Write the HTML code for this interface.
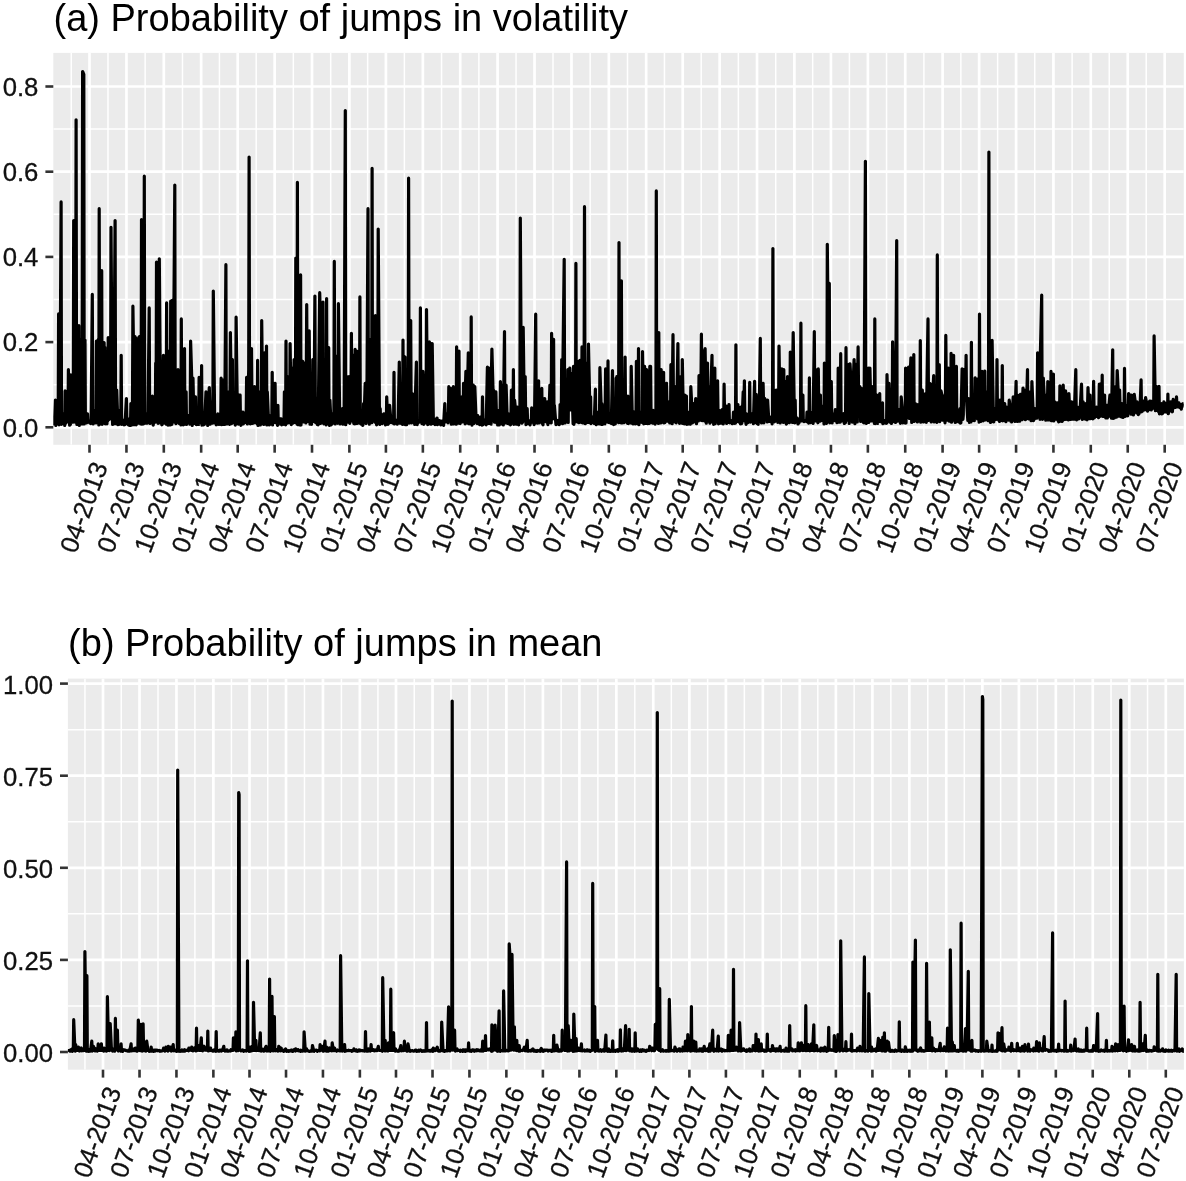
<!DOCTYPE html>
<html><head><meta charset="utf-8"><title>Probability of jumps</title>
<style>html,body{margin:0;padding:0;background:#fff}svg{display:block}</style></head>
<body><svg width="1186" height="1181" viewBox="0 0 1186 1181">
<rect width="1186" height="1181" fill="#fff"/>
<rect x="53.3" y="52.9" width="1130.5" height="391.90000000000003" fill="#ebebeb"/>
<clipPath id="ca"><rect x="53.3" y="52.9" width="1130.5" height="391.90000000000003"/></clipPath>
<g clip-path="url(#ca)" stroke="#fff" fill="none">
<path d="M53.3 427.30H1183.8" stroke-width="2.7"/>
<path d="M53.3 384.70H1183.8" stroke-width="1.5"/>
<path d="M53.3 342.10H1183.8" stroke-width="2.7"/>
<path d="M53.3 299.50H1183.8" stroke-width="1.5"/>
<path d="M53.3 256.90H1183.8" stroke-width="2.7"/>
<path d="M53.3 214.30H1183.8" stroke-width="1.5"/>
<path d="M53.3 171.70H1183.8" stroke-width="2.7"/>
<path d="M53.3 129.10H1183.8" stroke-width="1.5"/>
<path d="M53.3 86.50H1183.8" stroke-width="2.7"/>
<path d="M71.23 52.9V444.8" stroke-width="1.5"/>
<path d="M107.97 52.9V444.8" stroke-width="1.5"/>
<path d="M145.13 52.9V444.8" stroke-width="1.5"/>
<path d="M182.48 52.9V444.8" stroke-width="1.5"/>
<path d="M219.43 52.9V444.8" stroke-width="1.5"/>
<path d="M256.18 52.9V444.8" stroke-width="1.5"/>
<path d="M293.33 52.9V444.8" stroke-width="1.5"/>
<path d="M330.69 52.9V444.8" stroke-width="1.5"/>
<path d="M367.64 52.9V444.8" stroke-width="1.5"/>
<path d="M404.38 52.9V444.8" stroke-width="1.5"/>
<path d="M441.54 52.9V444.8" stroke-width="1.5"/>
<path d="M478.89 52.9V444.8" stroke-width="1.5"/>
<path d="M516.05 52.9V444.8" stroke-width="1.5"/>
<path d="M552.99 52.9V444.8" stroke-width="1.5"/>
<path d="M590.15 52.9V444.8" stroke-width="1.5"/>
<path d="M627.50 52.9V444.8" stroke-width="1.5"/>
<path d="M664.45 52.9V444.8" stroke-width="1.5"/>
<path d="M701.20 52.9V444.8" stroke-width="1.5"/>
<path d="M738.35 52.9V444.8" stroke-width="1.5"/>
<path d="M775.71 52.9V444.8" stroke-width="1.5"/>
<path d="M812.66 52.9V444.8" stroke-width="1.5"/>
<path d="M849.40 52.9V444.8" stroke-width="1.5"/>
<path d="M886.56 52.9V444.8" stroke-width="1.5"/>
<path d="M923.91 52.9V444.8" stroke-width="1.5"/>
<path d="M960.86 52.9V444.8" stroke-width="1.5"/>
<path d="M997.61 52.9V444.8" stroke-width="1.5"/>
<path d="M1034.76 52.9V444.8" stroke-width="1.5"/>
<path d="M1072.12 52.9V444.8" stroke-width="1.5"/>
<path d="M1109.27 52.9V444.8" stroke-width="1.5"/>
<path d="M1146.22 52.9V444.8" stroke-width="1.5"/>
<path d="M89.50 52.9V444.8" stroke-width="2.7"/>
<path d="M126.45 52.9V444.8" stroke-width="2.7"/>
<path d="M163.81 52.9V444.8" stroke-width="2.7"/>
<path d="M201.16 52.9V444.8" stroke-width="2.7"/>
<path d="M237.70 52.9V444.8" stroke-width="2.7"/>
<path d="M274.65 52.9V444.8" stroke-width="2.7"/>
<path d="M312.01 52.9V444.8" stroke-width="2.7"/>
<path d="M349.37 52.9V444.8" stroke-width="2.7"/>
<path d="M385.91 52.9V444.8" stroke-width="2.7"/>
<path d="M422.86 52.9V444.8" stroke-width="2.7"/>
<path d="M460.21 52.9V444.8" stroke-width="2.7"/>
<path d="M497.57 52.9V444.8" stroke-width="2.7"/>
<path d="M534.52 52.9V444.8" stroke-width="2.7"/>
<path d="M571.47 52.9V444.8" stroke-width="2.7"/>
<path d="M608.83 52.9V444.8" stroke-width="2.7"/>
<path d="M646.18 52.9V444.8" stroke-width="2.7"/>
<path d="M682.72 52.9V444.8" stroke-width="2.7"/>
<path d="M719.67 52.9V444.8" stroke-width="2.7"/>
<path d="M757.03 52.9V444.8" stroke-width="2.7"/>
<path d="M794.39 52.9V444.8" stroke-width="2.7"/>
<path d="M830.93 52.9V444.8" stroke-width="2.7"/>
<path d="M867.88 52.9V444.8" stroke-width="2.7"/>
<path d="M905.23 52.9V444.8" stroke-width="2.7"/>
<path d="M942.59 52.9V444.8" stroke-width="2.7"/>
<path d="M979.13 52.9V444.8" stroke-width="2.7"/>
<path d="M1016.08 52.9V444.8" stroke-width="2.7"/>
<path d="M1053.44 52.9V444.8" stroke-width="2.7"/>
<path d="M1090.79 52.9V444.8" stroke-width="2.7"/>
<path d="M1127.74 52.9V444.8" stroke-width="2.7"/>
<path d="M1164.69 52.9V444.8" stroke-width="2.7"/>
</g>
<path clip-path="url(#ca)" d="M54.2 425.6L55.4 400.2L55.8 425.5L56.2 413.9L56.6 413.8L57.0 416.4L58.2 422.1L58.6 313.9L59.0 424.8L59.5 315.6L59.9 424.0L61.1 201.9L61.5 424.3L61.9 415.4L62.3 423.7L62.7 415.8L63.9 413.8L64.3 415.2L64.7 425.5L65.1 390.9L65.5 423.3L66.8 397.8L67.2 419.5L67.6 391.1L68.0 422.0L68.4 369.7L69.6 425.2L70.0 375.2L70.4 424.5L70.8 374.8L71.2 422.5L72.4 385.0L72.9 422.2L73.3 386.3L73.7 220.5L74.1 352.8L75.3 422.2L75.7 364.9L76.1 119.8L76.5 371.4L76.9 424.5L78.1 353.3L78.5 424.7L78.9 325.7L79.3 425.4L79.8 396.1L81.0 339.3L81.4 370.2L81.8 423.9L82.2 347.8L82.6 71.5L83.8 74.3L84.2 424.0L84.6 363.7L85.0 340.1L85.4 422.6L86.7 422.8L87.1 417.3L87.5 413.8L87.9 421.0L88.3 420.5L89.5 422.7L89.9 422.2L90.3 420.8L90.7 423.6L91.1 422.1L92.3 294.4L92.7 416.3L93.2 424.0L93.6 422.9L94.0 410.4L95.2 418.1L95.6 422.4L96.0 422.8L96.4 341.0L96.8 342.8L98.0 422.6L98.4 339.3L98.8 425.0L99.2 208.7L99.7 424.3L100.9 416.8L101.3 419.9L101.7 270.7L102.1 424.3L102.5 342.7L103.7 423.2L104.1 342.6L104.5 421.3L104.9 347.3L105.3 423.8L106.6 357.8L107.0 423.8L107.4 354.0L107.8 420.8L108.2 337.6L109.4 419.3L109.8 340.9L110.2 339.3L110.6 401.2L111.0 227.3L112.2 403.3L112.6 424.5L113.1 405.8L113.5 424.0L113.9 391.4L115.1 220.5L115.5 390.1L115.9 423.7L116.3 404.5L116.7 390.1L117.9 424.7L118.3 422.8L118.7 410.4L119.1 424.3L119.5 414.3L120.8 423.6L121.2 355.3L121.6 424.3L122.0 421.5L122.4 424.0L123.6 420.5L124.0 424.8L124.4 422.0L124.8 424.7L125.2 420.8L126.4 398.5L126.9 421.6L127.3 424.1L127.7 424.1L128.1 424.7L129.3 418.9L129.7 425.3L130.1 418.9L130.5 425.4L130.9 403.6L132.1 424.8L132.5 404.2L132.9 306.2L133.4 341.6L133.8 424.7L135.0 336.7L135.4 424.7L135.8 337.8L136.2 424.8L136.6 354.6L137.8 422.5L138.2 414.4L138.6 423.2L139.0 337.1L139.4 336.7L140.7 424.0L141.1 422.8L141.5 219.7L141.9 424.2L142.3 414.0L143.5 423.9L143.9 416.4L144.3 176.2L144.7 415.7L145.1 423.1L146.3 413.8L146.8 423.1L147.2 423.1L147.6 423.0L148.0 416.5L149.2 307.9L149.6 403.7L150.0 423.4L150.4 405.3L150.8 398.5L152.0 408.8L152.4 396.0L152.8 422.1L153.2 425.1L153.7 420.5L154.9 422.2L155.3 422.2L155.7 363.0L156.1 412.7L156.5 262.2L157.7 338.0L158.1 423.3L158.5 335.9L158.9 422.0L159.3 258.8L160.6 423.1L161.0 409.8L161.4 408.7L161.8 424.8L162.2 424.5L163.4 355.3L163.8 419.7L164.2 375.2L164.6 423.1L165.0 356.2L166.2 424.2L166.6 302.9L167.1 423.5L167.5 365.1L167.9 425.1L169.1 351.1L169.5 422.1L169.9 408.7L170.3 425.0L170.7 301.2L171.9 424.3L172.3 300.3L172.7 422.1L173.1 364.5L173.6 352.8L174.8 185.0L175.2 422.5L175.6 413.8L176.0 423.7L176.4 413.8L177.6 422.1L178.0 369.7L178.4 422.2L178.8 382.8L179.2 423.4L180.5 422.3L180.9 424.9L181.3 318.9L181.7 424.0L182.1 356.9L183.3 424.8L183.7 381.1L184.1 424.0L184.5 348.6L184.9 424.1L186.1 391.8L186.5 424.4L186.9 416.4L187.4 422.9L187.8 417.1L189.0 415.5L189.4 415.9L189.8 424.1L190.2 415.9L190.6 341.0L191.8 380.3L192.2 425.4L192.6 396.3L193.0 378.2L193.4 397.9L194.7 423.4L195.1 399.8L195.5 396.8L195.9 420.7L196.3 424.6L197.5 420.1L197.9 424.5L198.3 417.2L198.7 424.4L199.1 377.4L200.3 422.3L200.8 391.4L201.2 422.1L201.6 365.5L202.0 425.2L203.2 413.8L203.6 425.0L204.0 418.7L204.4 424.3L204.8 418.5L206.0 391.8L206.4 414.3L206.8 422.9L207.3 393.1L207.7 425.5L208.9 394.6L209.3 387.5L209.7 402.2L210.1 424.1L210.5 407.1L211.7 401.9L212.1 410.1L212.5 423.1L212.9 403.2L213.3 291.0L214.6 415.1L215.0 422.8L215.4 419.0L215.8 422.6L216.2 424.8L217.4 422.0L217.8 413.8L218.2 424.1L218.6 415.1L219.0 424.5L220.2 414.1L220.7 423.5L221.1 378.2L221.5 424.7L221.9 394.5L223.1 424.4L223.5 379.9L223.9 424.4L224.3 383.4L224.7 424.4L225.9 264.7L226.3 423.1L226.7 391.8L227.1 424.0L227.6 391.8L228.8 423.5L229.2 423.6L229.6 424.4L230.0 397.5L230.4 332.5L231.6 423.7L232.0 418.8L232.4 359.6L232.8 422.7L233.2 420.9L234.5 418.9L234.9 419.2L235.3 425.1L235.7 420.7L236.1 317.2L237.3 405.6L237.7 423.4L238.1 398.9L238.5 424.1L238.9 395.2L240.1 395.1L240.5 423.1L241.0 425.3L241.4 412.2L241.8 423.5L243.0 412.1L243.4 424.0L243.8 417.7L244.2 423.0L244.6 422.0L245.8 422.3L246.2 416.3L246.6 377.4L247.0 395.8L247.4 424.0L248.7 369.7L249.1 157.0L249.5 371.4L249.9 419.9L250.3 423.9L251.5 348.6L251.9 394.4L252.3 423.5L252.7 399.1L253.1 423.2L254.4 386.7L254.8 422.7L255.2 395.6L255.6 422.4L256.0 386.8L257.2 424.0L257.6 360.4L258.0 425.5L258.4 392.3L258.8 391.8L260.0 399.2L260.4 424.9L260.8 392.2L261.3 421.2L261.7 320.6L262.9 423.5L263.3 382.5L263.7 424.4L264.1 361.3L264.5 352.8L265.7 382.7L266.1 424.0L266.5 346.0L266.9 424.9L267.3 391.8L268.6 423.0L269.0 418.3L269.4 425.0L269.8 415.5L270.2 423.2L271.4 417.3L271.8 423.9L272.2 372.3L272.6 424.9L273.0 395.5L274.2 422.4L274.7 385.5L275.1 383.3L275.5 422.6L275.9 420.5L277.1 421.5L277.5 425.4L277.9 405.3L278.3 424.6L278.7 418.9L279.9 423.2L280.3 418.9L280.7 422.7L281.2 418.9L281.6 424.8L282.8 422.3L283.2 422.2L283.6 424.3L284.0 423.0L284.4 391.8L285.6 424.8L286.0 341.0L286.4 422.6L286.8 376.6L287.2 423.2L288.5 376.5L288.9 422.7L289.3 376.5L289.7 418.8L290.1 343.5L291.3 424.6L291.7 368.1L292.1 423.2L292.5 369.0L292.9 423.2L294.1 359.6L294.6 422.4L295.0 384.4L295.4 422.3L295.8 258.0L297.0 423.9L297.4 182.4L297.8 424.7L298.2 368.8L298.6 285.1L299.8 287.9L300.2 425.1L300.6 274.9L301.0 424.9L301.5 372.2L302.7 361.3L303.1 363.9L303.5 421.9L303.9 393.9L304.3 363.0L305.5 369.8L305.9 423.0L306.3 377.1L306.7 304.5L307.1 367.7L308.4 421.5L308.8 356.9L309.2 330.8L309.6 385.2L310.0 424.2L311.2 373.1L311.6 424.3L312.0 384.7L312.4 419.5L312.8 359.6L314.0 421.5L314.4 361.5L314.9 296.1L315.3 403.4L315.7 422.6L316.9 401.7L317.3 424.4L317.7 398.5L318.1 424.8L318.5 398.6L319.7 292.7L320.1 307.9L320.5 423.5L320.9 409.7L321.3 422.7L322.6 319.9L323.0 302.0L323.4 419.9L323.8 423.8L324.2 420.0L325.4 417.2L325.8 418.2L326.2 424.8L326.6 298.6L327.0 422.6L328.3 379.0L328.7 347.7L329.1 422.6L329.5 425.4L329.9 400.2L331.1 424.9L331.5 424.3L331.9 423.1L332.3 413.8L332.7 422.8L333.9 423.2L334.3 261.4L334.7 406.5L335.2 424.0L335.6 366.1L336.8 356.2L337.2 422.6L337.6 423.2L338.0 417.5L338.4 303.7L339.6 412.1L340.0 423.9L340.4 412.1L340.8 423.1L341.2 413.3L342.5 408.7L342.9 424.2L343.3 422.6L343.7 414.4L344.1 424.0L345.3 110.5L345.7 424.7L346.1 412.5L346.5 422.4L346.9 376.5L348.1 422.2L348.6 388.3L349.0 376.5L349.4 389.3L349.8 423.3L351.0 391.2L351.4 333.3L351.8 395.4L352.2 421.1L352.6 355.1L353.8 423.4L354.2 423.7L354.6 422.7L355.1 349.4L355.5 423.6L356.7 351.1L357.1 423.4L357.5 414.1L357.9 413.8L358.3 422.4L359.5 423.1L359.9 296.9L360.3 423.1L360.7 421.3L361.1 424.1L362.4 417.2L362.8 425.4L363.2 419.9L363.6 403.6L364.0 421.0L365.2 383.3L365.6 384.3L366.0 423.5L366.4 387.8L366.8 421.1L368.0 208.7L368.4 420.6L368.9 401.6L369.3 424.2L369.7 339.3L370.9 419.8L371.3 339.3L371.7 422.7L372.1 168.4L372.5 420.2L373.7 369.7L374.1 419.6L374.5 355.2L374.9 422.2L375.4 315.6L376.6 424.8L377.0 415.4L377.4 422.9L377.8 412.0L378.2 229.0L379.4 409.3L379.8 424.5L380.2 408.7L380.6 421.8L381.0 414.0L382.3 423.6L382.7 415.7L383.1 422.4L383.5 416.0L383.9 413.8L385.1 417.9L385.5 425.0L385.9 413.9L386.3 424.1L386.7 396.8L387.9 424.3L388.3 423.7L388.8 423.3L389.2 408.0L389.6 405.3L390.8 419.2L391.2 422.6L391.6 420.9L392.0 418.9L392.4 420.8L393.6 423.6L394.0 372.3L394.4 424.0L394.8 420.8L395.2 423.1L396.5 420.5L396.9 422.4L397.3 424.2L397.7 422.5L398.1 421.2L399.3 362.1L399.7 390.1L400.1 423.3L400.5 388.4L400.9 422.6L402.2 389.5L402.6 424.5L403.0 340.1L403.4 424.0L403.8 361.1L405.0 357.0L405.4 424.7L405.8 423.0L406.2 386.8L406.6 424.6L407.8 380.4L408.2 422.2L408.6 178.2L409.1 423.1L409.5 357.7L410.7 320.6L411.1 400.3L411.5 423.0L411.9 402.5L412.3 393.5L413.5 405.3L413.9 422.2L414.3 412.7L414.7 424.4L415.1 407.4L416.4 362.1L416.8 420.6L417.2 424.6L417.6 421.1L418.0 420.5L419.2 421.4L419.6 422.0L420.0 420.7L420.4 307.9L420.8 385.6L422.0 423.7L422.5 385.7L422.9 371.4L423.3 379.9L423.7 424.3L424.9 382.5L425.3 423.0L425.7 389.7L426.1 422.5L426.5 309.6L427.7 424.6L428.1 352.6L428.5 419.6L428.9 423.9L429.4 341.8L430.6 362.0L431.0 424.2L431.4 343.6L431.8 421.2L432.2 343.5L433.4 423.4L433.8 418.9L434.2 423.5L434.6 420.0L435.0 424.6L436.3 419.0L436.7 423.9L437.1 418.0L437.5 424.7L437.9 420.9L439.1 422.5L439.5 420.5L439.9 424.1L440.3 421.6L440.7 424.9L441.9 421.1L442.3 422.4L442.8 421.5L443.2 424.7L443.6 425.3L444.8 403.6L445.2 415.3L445.6 422.0L446.0 414.1L446.4 413.8L447.6 417.9L448.0 422.9L448.4 417.4L448.8 386.7L449.3 399.5L450.5 388.4L450.9 399.9L451.3 424.1L451.7 398.6L452.1 424.0L453.3 386.7L453.7 424.0L454.1 387.6L454.5 422.2L454.9 400.2L456.2 424.2L456.6 346.9L457.0 422.1L457.4 406.4L457.8 423.2L459.0 351.1L459.4 423.2L459.8 420.5L460.2 423.6L460.6 420.9L461.8 396.8L462.2 401.8L462.7 421.9L463.1 418.8L463.5 383.3L464.7 393.0L465.1 423.8L465.5 384.8L465.9 371.4L466.3 405.4L467.5 423.1L467.9 371.4L468.3 352.8L468.7 364.3L469.1 423.8L470.4 403.9L470.8 422.8L471.2 316.9L471.6 422.6L472.0 425.2L473.2 385.0L473.6 387.9L474.0 423.5L474.4 391.9L474.8 386.7L476.1 420.5L476.5 422.0L476.9 422.2L477.3 423.5L477.7 415.5L478.9 423.0L479.3 417.8L479.7 424.7L480.1 417.9L480.5 417.2L481.7 418.6L482.1 425.1L482.5 396.8L483.0 424.7L483.4 421.7L484.6 420.5L485.0 422.2L485.4 422.6L485.8 421.0L486.2 424.8L487.4 367.2L487.8 423.0L488.2 390.0L488.6 423.4L489.0 368.1L490.3 423.2L490.7 418.3L491.1 424.2L491.5 370.0L491.9 349.1L493.1 393.5L493.5 390.1L493.9 392.4L494.3 422.1L494.7 399.8L495.9 391.8L496.4 414.0L496.8 423.0L497.2 415.6L497.6 425.0L498.8 410.4L499.2 424.9L499.6 411.5L500.0 423.2L500.4 381.6L501.6 424.0L502.0 388.7L502.4 385.0L502.8 399.3L503.3 425.0L504.5 331.6L504.9 423.0L505.3 396.7L505.7 421.9L506.1 385.0L507.3 423.3L507.7 413.8L508.1 422.0L508.5 413.8L508.9 423.8L510.2 418.7L510.6 424.8L511.0 415.1L511.4 390.1L511.8 391.9L513.0 421.9L513.4 369.7L513.8 424.3L514.2 418.5L514.6 400.2L515.8 412.5L516.2 424.2L516.7 407.1L517.1 423.9L517.5 407.0L518.7 425.0L519.1 418.9L519.5 421.7L519.9 419.0L520.3 218.0L521.5 421.4L521.9 423.1L522.3 419.2L522.7 422.3L523.2 327.4L524.4 419.2L524.8 392.8L525.2 376.5L525.6 410.4L526.0 424.6L527.2 408.7L527.6 422.0L528.0 423.7L528.4 423.4L528.8 420.5L530.1 424.9L530.5 421.2L530.9 422.3L531.3 422.4L531.7 407.8L532.9 421.0L533.3 422.0L533.7 420.5L534.1 424.7L534.5 420.9L535.7 314.2L536.1 384.4L536.6 423.0L537.0 384.0L537.4 423.1L538.6 380.8L539.0 423.0L539.4 395.5L539.8 395.1L540.2 400.9L541.4 422.0L541.8 388.4L542.2 423.5L542.6 402.6L543.0 424.8L544.3 403.9L544.7 398.5L545.1 418.9L545.5 421.6L545.9 402.3L547.1 401.9L547.5 421.9L547.9 424.6L548.3 420.5L548.7 422.8L549.9 385.0L550.4 421.9L550.8 422.6L551.2 422.9L551.6 333.3L552.8 418.8L553.2 357.4L553.6 339.3L554.0 416.8L554.4 405.3L555.6 420.6L556.0 424.7L556.4 420.9L556.9 422.1L557.3 420.5L558.5 424.2L558.9 421.3L559.3 424.7L559.7 423.1L560.1 404.5L561.3 412.0L561.7 359.6L562.1 404.6L562.5 423.7L562.9 366.7L564.2 259.3L564.6 405.2L565.0 422.9L565.4 403.4L565.8 401.9L567.0 402.3L567.4 422.0L567.8 369.7L568.2 422.4L568.6 376.9L569.8 368.1L570.3 385.0L570.7 373.1L571.1 410.0L571.5 408.7L572.7 410.2L573.1 423.7L573.5 366.4L573.9 424.3L574.3 382.7L575.5 421.8L575.9 263.4L576.3 419.7L576.7 415.2L577.2 421.9L578.4 361.3L578.8 422.7L579.2 368.5L579.6 419.8L580.0 360.4L581.2 422.3L581.6 418.9L582.0 346.9L582.4 387.7L582.8 422.9L584.1 378.6L584.5 206.7L584.9 368.4L585.3 423.7L585.7 387.8L586.9 363.0L587.3 368.2L587.7 422.4L588.1 383.5L588.5 344.0L589.7 402.7L590.1 422.7L590.6 396.8L591.0 423.7L591.4 418.5L592.6 417.2L593.0 419.6L593.4 422.5L593.8 417.2L594.2 423.3L595.4 389.2L595.8 422.5L596.2 424.7L596.6 421.4L597.0 415.0L598.3 412.1L598.7 422.5L599.1 423.9L599.5 423.2L599.9 367.7L601.1 404.6L601.5 424.4L601.9 403.6L602.3 424.5L602.7 405.3L604.0 422.5L604.4 423.7L604.8 423.8L605.2 409.4L605.6 368.9L606.8 419.0L607.2 422.0L607.6 421.0L608.0 360.9L608.4 422.5L609.6 422.7L610.0 420.9L610.4 420.5L610.9 420.8L611.3 423.4L612.5 370.6L612.9 424.1L613.3 423.5L613.7 424.5L614.1 412.1L615.3 424.0L615.7 417.2L616.1 378.2L616.5 381.2L616.9 376.5L618.2 382.2L618.6 422.7L619.0 242.6L619.4 419.1L619.8 382.0L621.0 422.8L621.4 280.8L621.8 423.0L622.2 423.0L622.6 386.7L623.8 400.0L624.3 422.6L624.7 395.6L625.1 357.0L625.5 406.8L626.7 396.8L627.1 404.9L627.5 423.3L627.9 396.0L628.3 423.6L629.5 412.9L629.9 412.1L630.3 412.7L630.8 422.9L631.2 366.4L632.4 423.5L632.8 416.4L633.2 423.8L633.6 416.6L634.0 412.1L635.2 416.2L635.6 423.8L636.0 419.1L636.4 361.3L636.8 377.3L638.1 423.8L638.5 348.6L638.9 424.7L639.3 415.6L639.7 422.0L640.9 412.1L641.3 422.2L641.7 413.4L642.1 422.5L642.5 351.5L643.7 423.8L644.2 389.8L644.6 366.4L645.0 374.4L645.4 423.3L646.6 369.7L647.0 423.5L647.4 416.5L647.8 423.6L648.2 412.1L649.4 423.4L649.8 366.4L650.2 420.6L650.6 366.4L651.1 422.3L652.3 410.5L652.7 423.2L653.1 410.4L653.5 421.2L653.9 411.6L655.1 424.1L655.5 411.5L655.9 422.6L656.3 190.9L656.7 421.8L658.0 411.0L658.4 423.4L658.8 332.5L659.2 421.5L659.6 370.0L660.8 423.0L661.2 369.7L661.6 422.0L662.0 379.5L662.4 422.1L663.6 372.3L664.0 422.9L664.5 399.8L664.9 422.6L665.3 386.3L666.5 383.3L666.9 402.2L667.3 421.2L667.7 403.3L668.1 401.9L669.3 403.7L669.7 422.9L670.1 403.6L670.5 421.8L670.9 364.7L672.2 423.7L672.6 367.5L673.0 334.7L673.4 396.2L673.8 421.4L675.0 386.7L675.4 422.2L675.8 420.2L676.2 422.8L676.6 417.2L677.9 343.5L678.3 395.8L678.7 420.4L679.1 405.6L679.5 423.3L680.7 376.5L681.1 423.0L681.5 385.4L681.9 423.2L682.3 359.6L683.5 423.7L683.9 402.3L684.3 423.8L684.8 395.1L685.2 421.6L686.4 396.0L686.8 424.3L687.2 414.1L687.6 424.2L688.0 412.1L689.2 423.8L689.6 422.0L690.0 423.6L690.4 424.0L690.8 386.7L692.1 411.6L692.5 422.8L692.9 414.7L693.3 403.6L693.7 408.2L694.9 421.9L695.3 412.0L695.7 398.5L696.1 400.0L696.5 423.7L697.7 399.6L698.2 421.0L698.6 419.4L699.0 375.7L699.4 377.6L700.6 420.2L701.0 380.2L701.4 334.2L701.8 376.0L702.2 420.7L703.4 351.1L703.8 420.3L704.2 382.2L704.7 421.1L705.1 348.6L706.3 423.2L706.7 372.6L707.1 421.0L707.5 363.0L707.9 419.8L709.1 386.7L709.5 421.7L709.9 423.1L710.3 421.8L710.7 394.7L712.0 355.3L712.4 404.8L712.8 422.2L713.2 381.7L713.6 424.3L714.8 368.1L715.2 423.6L715.6 409.7L716.0 421.1L716.4 400.1L717.6 380.8L718.0 410.9L718.5 423.8L718.9 410.6L719.3 410.4L720.5 413.5L720.9 423.2L721.3 422.4L721.7 422.9L722.1 409.5L723.3 424.0L723.7 418.0L724.1 384.1L724.5 411.5L725.0 421.1L726.2 406.2L726.6 423.4L727.0 410.4L727.4 422.8L727.8 414.1L729.0 404.5L729.4 422.2L729.8 422.7L730.2 422.1L730.6 421.4L731.9 420.5L732.3 423.7L732.7 421.0L733.1 421.1L733.5 412.1L734.7 423.3L735.1 417.3L735.5 423.1L735.9 344.8L736.3 421.9L737.5 408.2L737.9 404.5L738.4 420.1L738.8 421.8L739.2 412.9L740.4 423.8L740.8 407.0L741.2 421.9L741.6 423.6L742.0 422.4L743.2 391.8L743.6 420.5L744.0 402.4L744.4 380.8L744.8 416.4L746.1 424.3L746.5 413.8L746.9 423.2L747.3 414.5L747.7 422.7L748.9 416.9L749.3 421.9L749.7 382.4L750.1 422.1L750.5 414.5L751.8 413.8L752.2 414.3L752.6 421.6L753.0 416.6L753.4 423.6L754.6 381.3L755.0 422.7L755.4 421.5L755.8 422.4L756.2 394.3L757.4 423.8L757.8 405.5L758.2 424.3L758.7 398.0L759.1 421.3L760.3 338.4L760.7 420.7L761.1 386.7L761.5 422.9L761.9 388.9L763.1 383.3L763.5 401.5L763.9 422.8L764.3 399.6L764.7 398.5L766.0 410.6L766.4 418.9L766.8 400.4L767.2 421.9L767.6 400.2L768.8 420.7L769.2 417.2L769.6 421.5L770.0 417.3L770.4 417.2L771.6 418.5L772.1 423.8L772.5 418.5L772.9 248.5L773.3 420.9L774.5 421.8L774.9 419.5L775.3 413.8L775.7 414.9L776.1 390.1L777.3 403.0L777.7 422.3L778.1 417.3L778.5 421.1L779.0 346.0L780.2 422.9L780.6 381.5L781.0 421.8L781.4 376.9L781.8 368.9L783.0 383.9L783.4 422.4L783.8 369.7L784.2 421.6L784.6 408.6L785.9 381.6L786.3 424.1L786.7 423.6L787.1 398.8L787.5 376.5L788.7 390.6L789.1 420.6L789.5 422.7L789.9 421.1L790.3 352.0L791.5 419.4L791.9 366.9L792.4 422.5L792.8 360.1L793.2 332.5L794.4 419.9L794.8 423.0L795.2 400.2L795.6 421.8L796.0 419.9L797.2 418.0L797.6 419.3L798.0 424.0L798.4 419.6L798.9 423.0L800.1 419.4L800.5 420.9L800.9 323.2L801.3 420.8L801.7 420.8L802.9 395.1L803.3 420.9L803.7 420.6L804.1 421.6L804.5 420.5L805.8 420.7L806.2 421.0L806.6 421.5L807.0 412.1L807.4 412.3L808.6 423.1L809.0 417.2L809.4 377.9L809.8 420.9L810.2 422.7L811.4 412.9L811.8 421.7L812.3 412.1L812.7 421.6L813.1 423.5L814.3 331.6L814.7 392.9L815.1 421.0L815.5 373.8L815.9 369.7L817.1 370.7L817.5 420.7L817.9 422.8L818.3 368.9L818.7 403.2L820.0 421.2L820.4 395.1L820.8 420.8L821.2 406.2L821.6 406.2L822.8 410.5L823.2 420.5L823.6 410.4L824.0 424.0L824.4 363.0L825.7 422.0L826.1 421.1L826.5 423.4L826.9 420.1L827.3 244.3L828.5 369.5L828.9 421.0L829.3 283.4L829.7 422.8L830.1 387.5L831.3 381.6L831.7 414.3L832.1 423.0L832.6 417.9L833.0 413.8L834.2 417.5L834.6 420.6L835.0 414.3L835.4 409.5L835.8 415.3L837.0 422.7L837.4 410.1L837.8 420.4L838.2 368.1L838.6 422.1L839.9 384.1L840.3 422.1L840.7 353.7L841.1 421.0L841.5 417.7L842.7 420.8L843.1 414.2L843.5 413.8L843.9 415.8L844.3 423.5L845.5 422.5L846.0 347.7L846.4 403.1L846.8 420.3L847.2 367.5L848.4 364.7L848.8 364.8L849.2 423.5L849.6 368.2L850.0 363.8L851.2 385.7L851.6 385.0L852.0 399.6L852.4 422.1L852.9 389.6L854.1 359.6L854.5 386.0L854.9 423.7L855.3 364.1L855.7 418.6L856.9 382.2L857.3 422.0L857.7 375.0L858.1 346.9L858.5 387.0L859.8 386.7L860.2 390.2L860.6 421.4L861.0 396.2L861.4 388.4L862.6 397.3L863.0 420.4L863.4 422.4L863.8 422.7L864.2 395.7L865.4 161.3L865.8 423.3L866.3 423.4L866.7 392.5L867.1 420.5L868.3 368.1L868.7 422.4L869.1 382.0L869.5 421.3L869.9 368.1L871.1 419.6L871.5 390.1L871.9 420.9L872.3 413.3L872.8 386.7L874.0 387.0L874.4 423.5L874.8 318.9L875.2 423.6L875.6 397.0L876.8 395.1L877.2 399.4L877.6 423.4L878.0 401.5L878.4 421.4L879.7 393.5L880.1 421.5L880.5 408.2L880.9 421.1L881.3 421.9L882.5 402.8L882.9 423.6L883.3 423.4L883.7 421.2L884.1 420.5L885.3 421.1L885.7 423.2L886.2 421.3L886.6 423.3L887.0 374.5L888.2 421.1L888.6 404.3L889.0 383.3L889.4 397.0L889.8 422.2L891.0 396.8L891.4 423.4L891.8 401.4L892.2 421.1L892.6 341.8L893.9 421.5L894.3 386.7L894.7 421.9L895.1 415.2L895.5 422.4L896.7 240.5L897.1 420.3L897.5 412.6L897.9 421.1L898.3 409.7L899.5 409.5L900.0 413.8L900.4 423.3L900.8 414.4L901.2 396.8L902.4 409.8L902.8 423.0L903.2 414.9L903.6 421.8L904.0 409.5L905.2 423.2L905.6 368.1L906.0 423.0L906.5 404.9L906.9 390.1L908.1 393.1L908.5 367.2L908.9 367.2L909.3 418.4L909.7 387.0L910.9 357.9L911.3 364.8L911.7 422.5L912.1 382.6L912.5 420.9L913.8 354.5L914.2 421.5L914.6 410.5L915.0 420.8L915.4 403.6L916.6 420.2L917.0 409.2L917.4 421.9L917.8 404.5L918.2 420.6L919.4 405.5L919.9 420.9L920.3 340.6L920.7 422.2L921.1 400.9L922.3 390.1L922.7 405.0L923.1 421.8L923.5 399.5L923.9 421.9L925.1 411.2L925.5 393.5L925.9 394.0L926.3 422.3L926.8 397.3L928.0 318.9L928.4 385.2L928.8 420.4L929.2 417.1L929.6 383.3L930.8 387.5L931.2 422.0L931.6 385.1L932.0 384.1L932.4 399.5L933.7 375.7L934.1 422.0L934.5 420.3L934.9 412.6L935.3 421.5L936.5 416.2L936.9 422.3L937.3 254.9L937.7 421.1L938.1 367.7L939.3 364.7L939.7 421.6L940.2 419.5L940.6 393.0L941.0 390.9L942.2 396.3L942.6 420.2L943.0 402.3L943.4 396.0L943.8 396.8L945.0 422.8L945.4 396.3L945.8 335.4L946.2 375.3L946.7 420.1L947.9 379.4L948.3 368.1L948.7 415.9L949.1 421.2L949.5 369.5L950.7 420.5L951.1 353.3L951.5 422.2L951.9 368.0L952.3 417.1L953.6 355.3L954.0 420.2L954.4 408.1L954.8 420.2L955.2 422.5L956.4 366.4L956.8 421.8L957.2 420.5L957.6 411.8L958.0 410.4L959.2 411.7L959.6 422.5L960.0 408.7L960.5 423.2L960.9 422.8L962.1 368.9L962.5 390.7L962.9 419.3L963.3 414.8L963.7 369.7L964.9 399.1L965.3 385.0L965.7 385.7L966.1 355.3L966.5 399.4L967.8 420.5L968.2 419.3L968.6 398.5L969.0 411.8L969.4 422.4L970.6 398.7L971.0 422.0L971.4 342.3L971.8 420.7L972.2 411.7L973.4 403.6L973.9 405.7L974.3 420.6L974.7 403.6L975.1 377.9L976.3 383.2L976.7 417.2L977.1 382.6L977.5 418.9L977.9 378.8L979.1 422.1L979.5 314.2L979.9 420.0L980.4 392.3L980.8 421.5L982.0 371.4L982.4 420.6L982.8 374.8L983.2 420.8L983.6 386.0L984.8 371.1L985.2 399.2L985.6 419.9L986.0 418.4L986.4 391.8L987.7 418.9L988.1 420.6L988.5 399.7L988.9 152.0L989.3 398.9L990.5 422.5L990.9 392.1L991.3 421.6L991.7 400.3L992.1 340.4L993.3 413.4L993.8 422.0L994.2 414.4L994.6 419.6L995.0 408.7L996.2 419.4L996.6 413.7L997.0 359.6L997.4 406.7L997.8 419.2L999.0 420.4L999.4 421.4L999.8 400.2L1000.2 420.9L1000.7 415.5L1001.9 419.0L1002.3 365.5L1002.7 420.8L1003.1 403.7L1003.5 420.4L1004.7 403.6L1005.1 420.4L1005.5 412.6L1005.9 421.6L1006.3 407.0L1007.6 413.8L1008.0 415.2L1008.4 420.2L1008.8 413.9L1009.2 400.2L1010.4 409.7L1010.8 421.2L1011.2 415.5L1011.6 422.0L1012.0 419.1L1013.2 396.8L1013.6 407.8L1014.1 419.6L1014.5 419.9L1014.9 421.4L1016.1 381.3L1016.5 419.7L1016.9 402.7L1017.3 421.5L1017.7 395.1L1018.9 420.0L1019.3 400.5L1019.7 421.2L1020.1 398.5L1020.5 394.3L1021.8 394.7L1022.2 419.6L1022.6 401.2L1023.0 388.0L1023.4 391.2L1024.6 390.1L1025.0 394.0L1025.4 419.7L1025.8 392.5L1026.2 418.1L1027.5 369.7L1027.9 418.5L1028.3 391.9L1028.7 418.9L1029.1 391.8L1030.3 400.2L1030.7 408.3L1031.1 420.6L1031.5 405.5L1031.9 381.6L1033.1 410.1L1033.5 420.6L1033.9 414.0L1034.4 419.2L1034.8 408.7L1036.0 417.1L1036.4 418.1L1036.8 418.1L1037.2 411.0L1037.6 352.8L1038.8 358.4L1039.2 416.9L1039.6 359.6L1040.0 419.3L1040.4 353.7L1041.7 295.2L1042.1 400.3L1042.5 419.3L1042.9 382.2L1043.3 378.2L1044.5 402.2L1044.9 417.7L1045.3 395.1L1045.7 420.1L1046.1 400.4L1047.3 419.8L1047.8 381.6L1048.2 418.8L1048.6 394.0L1049.0 419.9L1050.2 384.4L1050.6 416.9L1051.0 371.4L1051.4 420.7L1051.8 397.6L1053.0 419.8L1053.4 374.0L1053.8 421.0L1054.3 410.4L1054.7 401.9L1055.9 404.5L1056.3 419.1L1056.7 404.0L1057.1 402.8L1057.5 419.1L1058.7 421.9L1059.1 404.1L1059.5 419.4L1059.9 385.8L1060.3 421.1L1061.6 389.2L1062.0 421.4L1062.4 392.6L1062.8 420.5L1063.2 385.0L1064.4 419.4L1064.8 392.1L1065.2 419.4L1065.6 390.9L1066.0 419.1L1067.2 394.0L1067.7 419.7L1068.1 417.1L1068.5 419.9L1068.9 393.5L1070.1 417.3L1070.5 416.5L1070.9 419.5L1071.3 407.5L1071.7 401.9L1072.9 403.0L1073.3 419.2L1073.7 402.7L1074.1 419.2L1074.6 404.9L1075.8 369.7L1076.2 409.2L1076.6 419.8L1077.0 418.9L1077.4 407.0L1078.6 412.6L1079.0 418.8L1079.4 408.1L1079.8 417.0L1080.2 408.5L1081.5 384.1L1081.9 402.9L1082.3 419.5L1082.7 402.0L1083.1 401.9L1084.3 406.1L1084.7 418.4L1085.1 407.6L1085.5 419.2L1085.9 403.6L1087.1 419.8L1087.5 407.9L1088.0 387.5L1088.4 398.5L1088.8 418.6L1090.0 395.1L1090.4 418.6L1090.8 405.4L1091.2 417.5L1091.6 403.7L1092.8 418.9L1093.2 409.1L1093.6 381.3L1094.0 407.0L1094.4 417.9L1095.7 407.4L1096.1 416.5L1096.5 407.0L1096.9 416.3L1097.3 413.2L1098.5 417.7L1098.9 411.4L1099.3 384.1L1099.7 385.5L1100.1 416.3L1101.4 383.3L1101.8 415.5L1102.2 375.2L1102.6 416.3L1103.0 416.2L1104.2 416.4L1104.6 395.1L1105.0 416.8L1105.4 416.1L1105.8 418.0L1107.0 405.3L1107.4 418.0L1107.8 405.3L1108.3 416.9L1108.7 408.3L1109.9 395.1L1110.3 408.7L1110.7 415.3L1111.1 395.5L1111.5 418.2L1112.7 349.8L1113.1 418.4L1113.5 392.4L1113.9 416.8L1114.3 417.9L1115.6 386.7L1116.0 396.7L1116.4 417.2L1116.8 390.0L1117.2 370.6L1118.4 395.4L1118.8 416.1L1119.2 391.7L1119.6 390.1L1120.0 404.8L1121.2 416.8L1121.7 404.3L1122.1 403.6L1122.5 403.8L1122.9 417.5L1124.1 416.4L1124.5 368.4L1124.9 407.0L1125.3 416.3L1125.7 410.0L1126.9 405.3L1127.3 406.0L1127.7 415.8L1128.2 405.8L1128.6 393.5L1129.8 395.6L1130.2 412.5L1130.6 399.9L1131.0 414.2L1131.4 395.1L1132.6 412.3L1133.0 398.7L1133.4 414.9L1133.8 412.6L1134.2 394.3L1135.5 403.5L1135.9 411.6L1136.3 403.6L1136.7 413.0L1137.1 401.9L1138.3 414.7L1138.7 406.6L1139.1 413.6L1139.5 403.9L1139.9 411.1L1141.1 379.9L1141.5 411.8L1142.0 404.1L1142.4 411.3L1142.8 401.1L1144.0 401.1L1144.4 401.6L1144.8 410.0L1145.2 404.5L1145.6 397.7L1146.8 404.0L1147.2 409.5L1147.6 411.2L1148.0 408.9L1148.5 402.7L1149.7 401.1L1150.1 401.7L1150.5 409.7L1150.9 401.2L1151.3 410.0L1152.5 404.8L1152.9 407.4L1153.3 408.2L1153.7 407.3L1154.1 335.9L1155.4 410.7L1155.8 392.1L1156.2 410.5L1156.6 386.7L1157.0 409.8L1158.2 398.1L1158.6 411.7L1159.0 386.3L1159.4 413.8L1159.8 404.5L1161.0 413.3L1161.4 403.6L1161.9 413.8L1162.3 407.7L1162.7 413.3L1163.9 401.9L1164.3 411.8L1164.7 402.9L1165.1 411.9L1165.5 409.7L1166.7 412.1L1167.1 403.4L1167.5 412.5L1167.9 394.0L1168.3 413.7L1169.6 404.4L1170.0 411.1L1170.4 407.6L1170.8 401.9L1171.2 406.1L1172.4 411.8L1172.8 402.5L1173.2 399.4L1173.6 406.6L1174.0 407.7L1175.3 403.6L1175.7 407.5L1176.1 405.8L1176.5 396.8L1176.9 404.8L1178.1 406.9L1178.5 404.5L1178.9 402.8L1179.3 405.9L1179.7 407.4L1180.9 406.1L1181.3 409.2L1181.7 404.3L1182.2 406.6L1182.6 403.9L1183.8 403.6" fill="none" stroke="#000" stroke-width="3.2" stroke-linejoin="round" stroke-linecap="butt"/>
<g stroke="#333" stroke-width="2.6" fill="none">
<path d="M45.4 427.30H53.3"/>
<path d="M45.4 342.10H53.3"/>
<path d="M45.4 256.90H53.3"/>
<path d="M45.4 171.70H53.3"/>
<path d="M45.4 86.50H53.3"/>
<path d="M89.50 444.8V452.7"/>
<path d="M126.45 444.8V452.7"/>
<path d="M163.81 444.8V452.7"/>
<path d="M201.16 444.8V452.7"/>
<path d="M237.70 444.8V452.7"/>
<path d="M274.65 444.8V452.7"/>
<path d="M312.01 444.8V452.7"/>
<path d="M349.37 444.8V452.7"/>
<path d="M385.91 444.8V452.7"/>
<path d="M422.86 444.8V452.7"/>
<path d="M460.21 444.8V452.7"/>
<path d="M497.57 444.8V452.7"/>
<path d="M534.52 444.8V452.7"/>
<path d="M571.47 444.8V452.7"/>
<path d="M608.83 444.8V452.7"/>
<path d="M646.18 444.8V452.7"/>
<path d="M682.72 444.8V452.7"/>
<path d="M719.67 444.8V452.7"/>
<path d="M757.03 444.8V452.7"/>
<path d="M794.39 444.8V452.7"/>
<path d="M830.93 444.8V452.7"/>
<path d="M867.88 444.8V452.7"/>
<path d="M905.23 444.8V452.7"/>
<path d="M942.59 444.8V452.7"/>
<path d="M979.13 444.8V452.7"/>
<path d="M1016.08 444.8V452.7"/>
<path d="M1053.44 444.8V452.7"/>
<path d="M1090.79 444.8V452.7"/>
<path d="M1127.74 444.8V452.7"/>
<path d="M1164.69 444.8V452.7"/>
</g>
<g font-family='"Liberation Sans", Arial, sans-serif' font-size="25.7" fill="#111" stroke="#111" stroke-width="0.3">
<text x="38.4" y="436.50" text-anchor="end">0.0</text>
<text x="38.4" y="351.30" text-anchor="end">0.2</text>
<text x="38.4" y="266.10" text-anchor="end">0.4</text>
<text x="38.4" y="180.90" text-anchor="end">0.6</text>
<text x="38.4" y="95.70" text-anchor="end">0.8</text>
<text transform="translate(108.20 466.00) rotate(-70)" text-anchor="end">04-2013</text>
<text transform="translate(145.15 466.00) rotate(-70)" text-anchor="end">07-2013</text>
<text transform="translate(182.51 466.00) rotate(-70)" text-anchor="end">10-2013</text>
<text transform="translate(219.86 466.00) rotate(-70)" text-anchor="end">01-2014</text>
<text transform="translate(256.40 466.00) rotate(-70)" text-anchor="end">04-2014</text>
<text transform="translate(293.35 466.00) rotate(-70)" text-anchor="end">07-2014</text>
<text transform="translate(330.71 466.00) rotate(-70)" text-anchor="end">10-2014</text>
<text transform="translate(368.07 466.00) rotate(-70)" text-anchor="end">01-2015</text>
<text transform="translate(404.61 466.00) rotate(-70)" text-anchor="end">04-2015</text>
<text transform="translate(441.56 466.00) rotate(-70)" text-anchor="end">07-2015</text>
<text transform="translate(478.91 466.00) rotate(-70)" text-anchor="end">10-2015</text>
<text transform="translate(516.27 466.00) rotate(-70)" text-anchor="end">01-2016</text>
<text transform="translate(553.22 466.00) rotate(-70)" text-anchor="end">04-2016</text>
<text transform="translate(590.17 466.00) rotate(-70)" text-anchor="end">07-2016</text>
<text transform="translate(627.53 466.00) rotate(-70)" text-anchor="end">10-2016</text>
<text transform="translate(664.88 466.00) rotate(-70)" text-anchor="end">01-2017</text>
<text transform="translate(701.42 466.00) rotate(-70)" text-anchor="end">04-2017</text>
<text transform="translate(738.37 466.00) rotate(-70)" text-anchor="end">07-2017</text>
<text transform="translate(775.73 466.00) rotate(-70)" text-anchor="end">10-2017</text>
<text transform="translate(813.09 466.00) rotate(-70)" text-anchor="end">01-2018</text>
<text transform="translate(849.63 466.00) rotate(-70)" text-anchor="end">04-2018</text>
<text transform="translate(886.58 466.00) rotate(-70)" text-anchor="end">07-2018</text>
<text transform="translate(923.93 466.00) rotate(-70)" text-anchor="end">10-2018</text>
<text transform="translate(961.29 466.00) rotate(-70)" text-anchor="end">01-2019</text>
<text transform="translate(997.83 466.00) rotate(-70)" text-anchor="end">04-2019</text>
<text transform="translate(1034.78 466.00) rotate(-70)" text-anchor="end">07-2019</text>
<text transform="translate(1072.14 466.00) rotate(-70)" text-anchor="end">10-2019</text>
<text transform="translate(1109.49 466.00) rotate(-70)" text-anchor="end">01-2020</text>
<text transform="translate(1146.44 466.00) rotate(-70)" text-anchor="end">04-2020</text>
<text transform="translate(1183.39 466.00) rotate(-70)" text-anchor="end">07-2020</text>
</g>
<text x="53.5" y="30.6" font-family='"Liberation Sans", Arial, sans-serif' font-size="38.0" fill="#000">(a) Probability of jumps in volatility</text>
<rect x="67.9" y="678.6" width="1116.0" height="391.1" fill="#ebebeb"/>
<clipPath id="cb"><rect x="67.9" y="678.6" width="1116.0" height="391.1"/></clipPath>
<g clip-path="url(#cb)" stroke="#fff" fill="none">
<path d="M67.9 1052.00H1183.9" stroke-width="2.7"/>
<path d="M67.9 1005.95H1183.9" stroke-width="1.5"/>
<path d="M67.9 959.90H1183.9" stroke-width="2.7"/>
<path d="M67.9 913.85H1183.9" stroke-width="1.5"/>
<path d="M67.9 867.80H1183.9" stroke-width="2.7"/>
<path d="M67.9 821.75H1183.9" stroke-width="1.5"/>
<path d="M67.9 775.70H1183.9" stroke-width="2.7"/>
<path d="M67.9 729.65H1183.9" stroke-width="1.5"/>
<path d="M67.9 683.60H1183.9" stroke-width="2.7"/>
<path d="M84.94 678.6V1069.7" stroke-width="1.5"/>
<path d="M121.26 678.6V1069.7" stroke-width="1.5"/>
<path d="M157.99 678.6V1069.7" stroke-width="1.5"/>
<path d="M194.91 678.6V1069.7" stroke-width="1.5"/>
<path d="M231.44 678.6V1069.7" stroke-width="1.5"/>
<path d="M267.76 678.6V1069.7" stroke-width="1.5"/>
<path d="M304.48 678.6V1069.7" stroke-width="1.5"/>
<path d="M341.41 678.6V1069.7" stroke-width="1.5"/>
<path d="M377.93 678.6V1069.7" stroke-width="1.5"/>
<path d="M414.25 678.6V1069.7" stroke-width="1.5"/>
<path d="M450.98 678.6V1069.7" stroke-width="1.5"/>
<path d="M487.90 678.6V1069.7" stroke-width="1.5"/>
<path d="M524.63 678.6V1069.7" stroke-width="1.5"/>
<path d="M561.15 678.6V1069.7" stroke-width="1.5"/>
<path d="M597.88 678.6V1069.7" stroke-width="1.5"/>
<path d="M634.80 678.6V1069.7" stroke-width="1.5"/>
<path d="M671.33 678.6V1069.7" stroke-width="1.5"/>
<path d="M707.65 678.6V1069.7" stroke-width="1.5"/>
<path d="M744.37 678.6V1069.7" stroke-width="1.5"/>
<path d="M781.30 678.6V1069.7" stroke-width="1.5"/>
<path d="M817.82 678.6V1069.7" stroke-width="1.5"/>
<path d="M854.15 678.6V1069.7" stroke-width="1.5"/>
<path d="M890.87 678.6V1069.7" stroke-width="1.5"/>
<path d="M927.79 678.6V1069.7" stroke-width="1.5"/>
<path d="M964.32 678.6V1069.7" stroke-width="1.5"/>
<path d="M1000.64 678.6V1069.7" stroke-width="1.5"/>
<path d="M1037.37 678.6V1069.7" stroke-width="1.5"/>
<path d="M1074.29 678.6V1069.7" stroke-width="1.5"/>
<path d="M1111.02 678.6V1069.7" stroke-width="1.5"/>
<path d="M1147.54 678.6V1069.7" stroke-width="1.5"/>
<path d="M103.00 678.6V1069.7" stroke-width="2.7"/>
<path d="M139.52 678.6V1069.7" stroke-width="2.7"/>
<path d="M176.45 678.6V1069.7" stroke-width="2.7"/>
<path d="M213.37 678.6V1069.7" stroke-width="2.7"/>
<path d="M249.50 678.6V1069.7" stroke-width="2.7"/>
<path d="M286.02 678.6V1069.7" stroke-width="2.7"/>
<path d="M322.95 678.6V1069.7" stroke-width="2.7"/>
<path d="M359.87 678.6V1069.7" stroke-width="2.7"/>
<path d="M395.99 678.6V1069.7" stroke-width="2.7"/>
<path d="M432.52 678.6V1069.7" stroke-width="2.7"/>
<path d="M469.44 678.6V1069.7" stroke-width="2.7"/>
<path d="M506.37 678.6V1069.7" stroke-width="2.7"/>
<path d="M542.89 678.6V1069.7" stroke-width="2.7"/>
<path d="M579.41 678.6V1069.7" stroke-width="2.7"/>
<path d="M616.34 678.6V1069.7" stroke-width="2.7"/>
<path d="M653.26 678.6V1069.7" stroke-width="2.7"/>
<path d="M689.39 678.6V1069.7" stroke-width="2.7"/>
<path d="M725.91 678.6V1069.7" stroke-width="2.7"/>
<path d="M762.84 678.6V1069.7" stroke-width="2.7"/>
<path d="M799.76 678.6V1069.7" stroke-width="2.7"/>
<path d="M835.88 678.6V1069.7" stroke-width="2.7"/>
<path d="M872.41 678.6V1069.7" stroke-width="2.7"/>
<path d="M909.33 678.6V1069.7" stroke-width="2.7"/>
<path d="M946.26 678.6V1069.7" stroke-width="2.7"/>
<path d="M982.38 678.6V1069.7" stroke-width="2.7"/>
<path d="M1018.90 678.6V1069.7" stroke-width="2.7"/>
<path d="M1055.83 678.6V1069.7" stroke-width="2.7"/>
<path d="M1092.75 678.6V1069.7" stroke-width="2.7"/>
<path d="M1129.28 678.6V1069.7" stroke-width="2.7"/>
<path d="M1165.80 678.6V1069.7" stroke-width="2.7"/>
</g>
<path clip-path="url(#cb)" d="M67.7 1051.3L68.1 1050.5L69.3 1050.5L69.7 1051.0L70.1 1050.5L70.5 1049.9L70.9 1051.2L72.1 1048.9L72.5 1051.3L72.9 1049.2L73.3 1050.7L73.7 1019.7L74.9 1049.6L75.3 1051.1L75.7 1044.6L76.1 1048.6L76.5 1050.4L77.7 1048.8L78.1 1050.3L78.5 1047.2L78.9 1049.9L79.3 1051.1L80.5 1050.2L80.9 1048.6L81.3 1048.0L81.7 1050.8L82.1 1049.9L83.3 1050.5L83.7 1050.1L84.1 1049.8L84.5 1050.2L84.9 951.5L86.1 1051.1L86.5 1047.4L86.9 975.7L87.3 1051.2L87.7 1051.1L89.0 1051.3L89.4 1050.0L89.8 1051.2L90.2 1051.1L90.6 1050.1L91.8 1041.2L92.2 1051.1L92.6 1050.5L93.0 1048.3L93.4 1046.3L94.6 1048.9L95.0 1050.9L95.4 1048.9L95.8 1051.0L96.2 1048.9L97.4 1051.0L97.8 1050.3L98.2 1043.8L98.6 1048.3L99.0 1050.2L100.2 1050.4L100.6 1049.8L101.0 1046.5L101.4 1043.8L101.8 1050.5L103.0 1050.3L103.4 1048.9L103.8 1051.1L104.2 1048.0L104.6 1050.4L105.8 1048.7L106.2 1051.0L106.6 1051.2L107.0 1050.6L107.4 996.7L108.6 1050.2L109.0 1032.3L109.4 1050.6L109.8 1033.0L110.2 1023.5L111.4 1048.5L111.8 1048.0L112.2 1050.1L112.6 1051.1L113.0 1050.5L114.2 1051.0L114.6 1051.2L115.0 1050.1L115.4 1018.4L115.8 1049.9L117.0 1040.2L117.4 1030.2L117.9 1050.5L118.3 1051.0L118.7 1050.7L119.9 1050.5L120.3 1050.7L120.7 1051.1L121.1 1043.8L121.5 1050.0L122.7 1051.3L123.1 1050.3L123.5 1050.3L123.9 1049.8L124.3 1050.2L125.5 1050.1L125.9 1050.5L126.3 1050.7L126.7 1050.8L127.1 1050.9L128.3 1051.2L128.7 1050.1L129.1 1050.7L129.5 1051.1L129.9 1050.3L131.1 1043.8L131.5 1050.9L131.9 1050.9L132.3 1049.1L132.7 1050.6L133.9 1048.9L134.3 1050.7L134.7 1050.7L135.1 1050.6L135.5 1048.0L136.7 1051.2L137.1 1049.1L137.5 1051.1L137.9 1048.7L138.3 1020.1L139.5 1031.2L139.9 1050.4L140.3 1050.7L140.7 1050.6L141.1 1024.3L142.3 1051.1L142.7 1044.3L143.1 1023.8L143.5 1044.7L143.9 1050.6L145.1 1049.8L145.5 1042.1L145.9 1051.1L146.3 1050.1L146.7 1041.2L148.0 1050.4L148.4 1050.6L148.8 1050.5L149.2 1051.3L149.6 1050.6L150.8 1051.2L151.2 1047.2L151.6 1051.2L152.0 1050.8L152.4 1050.7L153.6 1051.3L154.0 1050.1L154.4 1050.3L154.8 1051.2L155.2 1050.0L156.4 1050.1L156.8 1050.5L157.2 1050.2L157.6 1050.3L158.0 1050.8L159.2 1050.4L159.6 1050.8L160.0 1051.3L160.4 1050.9L160.8 1051.1L162.0 1050.9L162.4 1050.6L162.8 1050.5L163.2 1049.8L163.6 1048.0L164.8 1051.2L165.2 1048.3L165.6 1050.6L166.0 1047.2L166.4 1050.2L167.6 1048.0L168.0 1051.2L168.4 1046.3L168.8 1049.9L169.2 1047.9L170.4 1050.4L170.8 1047.2L171.2 1051.1L171.6 1047.3L172.0 1050.3L173.2 1044.6L173.6 1050.8L174.0 1050.9L174.4 1050.5L174.8 1050.1L176.0 1050.5L176.4 1051.3L176.9 1050.8L177.3 1051.0L177.7 770.1L178.9 1049.9L179.3 1051.2L179.7 1050.5L180.1 1051.3L180.5 1050.5L181.7 1051.1L182.1 1050.0L182.5 1051.0L182.9 1051.2L183.3 1051.2L184.5 1049.7L184.9 1051.1L185.3 1050.1L185.7 1050.2L186.1 1050.6L187.3 1050.2L187.7 1049.8L188.1 1050.3L188.5 1050.9L188.9 1048.0L190.1 1048.6L190.5 1050.2L190.9 1048.2L191.3 1050.3L191.7 1047.2L192.9 1050.9L193.3 1048.9L193.7 1050.0L194.1 1049.1L194.5 1048.0L195.7 1050.9L196.1 1050.9L196.5 1028.2L196.9 1050.1L197.3 1050.3L198.5 1045.5L198.9 1050.4L199.3 1049.9L199.7 1046.5L200.1 1050.3L201.3 1037.8L201.7 1050.4L202.1 1046.5L202.5 1050.9L202.9 1048.5L204.1 1046.3L204.5 1047.5L204.9 1050.1L205.3 1048.4L205.7 1050.2L207.0 1048.7L207.4 1050.3L207.8 1031.1L208.2 1051.0L208.6 1051.0L209.8 1050.2L210.2 1048.0L210.6 1048.0L211.0 1050.6L211.4 1050.5L212.6 1050.6L213.0 1051.0L213.4 1050.5L213.8 1050.0L214.2 1049.9L215.4 1051.3L215.8 1050.9L216.2 1031.6L216.6 1051.1L217.0 1050.9L218.2 1050.5L218.6 1051.0L219.0 1051.3L219.4 1051.0L219.8 1050.2L221.0 1050.1L221.4 1051.0L221.8 1050.7L222.2 1050.6L222.6 1050.2L223.8 1046.3L224.2 1050.6L224.6 1050.1L225.0 1051.2L225.4 1050.3L226.6 1050.5L227.0 1049.9L227.4 1051.2L227.8 1050.8L228.2 1051.2L229.4 1050.9L229.8 1050.9L230.2 1050.9L230.6 1051.0L231.0 1049.7L232.2 1050.3L232.6 1050.2L233.0 1050.4L233.4 1037.8L233.8 1048.9L235.0 1038.2L235.4 1050.0L235.9 1031.9L236.3 1050.9L236.7 1050.6L237.9 1049.8L238.3 1050.5L238.7 792.5L239.1 794.6L239.5 1050.1L240.7 1050.2L241.1 1050.9L241.5 1050.3L241.9 1050.5L242.3 1049.9L243.5 1051.2L243.9 1050.4L244.3 1050.9L244.7 1050.5L245.1 1050.6L246.3 1051.0L246.7 1050.1L247.1 1050.1L247.5 960.8L247.9 1048.9L249.1 1051.3L249.5 1047.2L249.9 1050.4L250.3 1050.5L250.7 1051.1L251.9 1046.3L252.3 1050.7L252.7 1047.3L253.1 1050.4L253.5 1002.3L254.7 1050.5L255.1 1046.5L255.5 1050.1L255.9 1040.4L256.3 1050.6L257.5 1050.0L257.9 1050.5L258.3 1050.5L258.7 1050.5L259.1 1050.6L260.3 1032.8L260.7 1050.9L261.1 1051.1L261.5 1049.8L261.9 1048.9L263.1 1050.3L263.5 1051.1L263.9 1050.6L264.3 1051.1L264.7 1049.1L266.0 1046.3L266.4 1050.7L266.8 1051.0L267.2 1050.5L267.6 1051.0L268.8 1050.8L269.2 1050.7L269.6 979.1L270.0 1050.7L270.4 1051.2L271.6 1050.0L272.0 996.4L272.4 1047.1L272.8 1018.3L273.2 1051.0L274.4 1016.7L274.8 1050.0L275.2 1048.9L275.6 1050.8L276.0 1049.8L277.2 1050.6L277.6 1049.4L278.0 1051.2L278.4 1049.6L278.8 1046.3L280.0 1048.1L280.4 1050.9L280.8 1050.9L281.2 1048.0L281.6 1050.7L282.8 1050.4L283.2 1051.1L283.6 1051.3L284.0 1050.2L284.4 1051.1L285.6 1048.9L286.0 1050.5L286.4 1050.0L286.8 1051.3L287.2 1050.8L288.4 1051.3L288.8 1050.6L289.2 1051.2L289.6 1051.0L290.0 1051.0L291.2 1050.1L291.6 1051.2L292.0 1050.2L292.4 1050.9L292.8 1051.3L294.0 1049.8L294.4 1050.3L294.9 1050.0L295.3 1051.0L295.7 1048.9L296.9 1050.3L297.3 1050.6L297.7 1049.9L298.1 1049.7L298.5 1050.8L299.7 1050.9L300.1 1050.5L300.5 1051.3L300.9 1050.2L301.3 1051.1L302.5 1051.1L302.9 1051.0L303.3 1050.4L303.7 1050.9L304.1 1031.9L305.3 1051.1L305.7 1049.1L306.1 1050.9L306.5 1048.9L306.9 1050.0L308.1 1050.9L308.5 1051.0L308.9 1051.3L309.3 1051.3L309.7 1051.3L310.9 1050.6L311.3 1051.0L311.7 1051.2L312.1 1050.3L312.5 1045.5L313.7 1050.6L314.1 1051.3L314.5 1050.2L314.9 1050.5L315.3 1050.4L316.5 1050.1L316.9 1050.7L317.3 1051.3L317.7 1050.6L318.1 1050.8L319.3 1050.4L319.7 1050.9L320.1 1044.6L320.5 1050.4L320.9 1046.9L322.1 1046.3L322.5 1047.3L322.9 1051.2L323.3 1048.2L323.7 1051.1L325.0 1041.2L325.4 1049.9L325.8 1050.3L326.2 1051.0L326.6 1047.2L327.8 1051.2L328.2 1050.9L328.6 1051.1L329.0 1048.8L329.4 1048.0L330.6 1048.5L331.0 1050.6L331.4 1048.3L331.8 1051.0L332.2 1042.9L333.4 1050.5L333.8 1050.6L334.2 1050.3L334.6 1048.0L335.0 1050.7L336.2 1050.6L336.6 1051.2L337.0 1050.5L337.4 1050.0L337.8 1050.6L339.0 1050.3L339.4 1050.8L339.8 1050.1L340.2 1050.8L340.6 955.7L341.8 1050.9L342.2 1051.0L342.6 1049.3L343.0 1048.9L343.4 1049.4L344.6 1044.6L345.0 1051.3L345.4 1049.8L345.8 1050.6L346.2 1050.9L347.4 1050.5L347.8 1050.5L348.2 1050.6L348.6 1050.2L349.0 1050.6L350.2 1050.7L350.6 1050.6L351.0 1050.5L351.4 1050.6L351.8 1051.3L353.0 1050.8L353.4 1050.7L353.9 1048.9L354.3 1050.2L354.7 1050.6L355.9 1051.0L356.3 1049.8L356.7 1050.3L357.1 1051.2L357.5 1051.3L358.7 1050.7L359.1 1049.9L359.5 1050.2L359.9 1050.8L360.3 1050.2L361.5 1050.5L361.9 1050.7L362.3 1050.6L362.7 1050.6L363.1 1050.9L364.3 1051.0L364.7 1051.1L365.1 1050.8L365.5 1031.6L365.9 1048.9L367.1 1051.2L367.5 1051.0L367.9 1051.1L368.3 1048.9L368.7 1050.8L369.9 1050.8L370.3 1051.0L370.7 1049.2L371.1 1044.6L371.5 1050.1L372.7 1050.5L373.1 1050.3L373.5 1049.7L373.9 1050.8L374.3 1050.9L375.5 1050.0L375.9 1050.5L376.3 1050.0L376.7 1050.7L377.1 1050.7L378.3 1046.3L378.7 1049.8L379.1 1050.1L379.5 1050.1L379.9 1050.5L381.1 1050.3L381.5 1050.8L381.9 1050.8L382.3 1051.2L382.7 977.7L384.0 1050.1L384.4 1049.5L384.8 1050.9L385.2 1040.4L385.6 1051.0L386.8 1049.9L387.2 1049.7L387.6 1050.5L388.0 1051.0L388.4 1042.9L389.6 1050.5L390.0 1044.7L390.4 1050.4L390.8 989.2L391.2 1048.7L392.4 1041.0L392.8 1050.4L393.2 1033.2L393.6 1032.8L394.0 1049.3L395.2 1051.1L395.6 1048.9L396.0 1050.4L396.4 1050.9L396.8 1050.8L398.0 1051.3L398.4 1051.0L398.8 1051.1L399.2 1050.0L399.6 1050.9L400.8 1045.5L401.2 1050.0L401.6 1050.9L402.0 1049.6L402.4 1050.1L403.6 1050.7L404.0 1050.4L404.4 1041.2L404.8 1050.1L405.2 1048.7L406.4 1050.8L406.8 1049.8L407.2 1051.2L407.6 1045.9L408.0 1043.8L409.2 1050.2L409.6 1051.2L410.0 1050.5L410.4 1051.2L410.8 1050.6L412.0 1051.0L412.4 1050.6L412.8 1050.7L413.3 1051.1L413.7 1051.1L414.9 1050.8L415.3 1050.1L415.7 1050.7L416.1 1050.1L416.5 1051.3L417.7 1051.1L418.1 1050.6L418.5 1051.0L418.9 1050.1L419.3 1051.2L420.5 1050.0L420.9 1050.4L421.3 1050.6L421.7 1050.9L422.1 1051.3L423.3 1050.7L423.7 1050.8L424.1 1051.3L424.5 1050.8L424.9 1050.9L426.1 1051.1L426.5 1022.6L426.9 1050.9L427.3 1050.9L427.7 1051.0L428.9 1051.0L429.3 1050.5L429.7 1051.1L430.1 1050.8L430.5 1051.0L431.7 1049.8L432.1 1051.0L432.5 1050.5L432.9 1051.3L433.3 1048.0L434.5 1049.9L434.9 1050.7L435.3 1050.4L435.7 1048.8L436.1 1050.3L437.3 1047.2L437.7 1050.3L438.1 1050.1L438.5 1051.2L438.9 1050.5L440.1 1051.1L440.5 1050.1L440.9 1050.7L441.3 1050.6L441.7 1022.1L443.0 1050.2L443.4 1051.2L443.8 1050.9L444.2 1050.5L444.6 1051.3L445.8 1050.6L446.2 1050.9L446.6 1051.0L447.0 1051.0L447.4 1050.9L448.6 1006.9L449.0 1049.7L449.4 1033.4L449.8 1051.0L450.2 1050.4L451.4 1049.6L451.8 1039.0L452.2 701.0L452.6 1031.1L453.0 1050.2L454.2 1036.0L454.6 1030.2L455.0 1050.1L455.4 1051.0L455.8 1049.3L457.0 1048.9L457.4 1050.6L457.8 1050.0L458.2 1050.1L458.6 1050.3L459.8 1050.5L460.2 1051.3L460.6 1050.2L461.0 1050.9L461.4 1050.7L462.6 1051.3L463.0 1049.9L463.4 1050.0L463.8 1051.2L464.2 1050.0L465.4 1051.3L465.8 1049.8L466.2 1050.2L466.6 1050.6L467.0 1050.9L468.2 1050.3L468.6 1042.9L469.0 1049.9L469.4 1051.0L469.8 1049.9L471.0 1051.3L471.4 1051.3L471.8 1050.4L472.3 1049.9L472.7 1049.9L473.9 1050.1L474.3 1051.3L474.7 1050.7L475.1 1050.2L475.5 1050.2L476.7 1050.8L477.1 1049.7L477.5 1050.6L477.9 1050.4L478.3 1050.0L479.5 1051.0L479.9 1050.8L480.3 1050.5L480.7 1050.0L481.1 1051.0L482.3 1050.4L482.7 1041.2L483.1 1051.1L483.5 1050.9L483.9 1045.2L485.1 1050.2L485.5 1035.6L485.9 1050.5L486.3 1050.1L486.7 1048.9L487.9 1049.8L488.3 1049.9L488.7 1049.9L489.1 1049.9L489.5 1048.9L490.7 1049.9L491.1 1049.1L491.5 1051.3L491.9 1024.8L492.3 1051.2L493.5 1048.0L493.9 1049.9L494.3 1048.2L494.7 1049.9L495.1 1025.1L496.3 1050.2L496.7 1050.5L497.1 1051.1L497.5 1050.6L497.9 1051.2L499.1 1010.8L499.5 1051.1L499.9 1050.4L500.3 1051.3L500.7 1050.5L502.0 1050.7L502.4 1050.9L502.8 1050.8L503.2 1050.9L503.6 990.9L504.8 1050.8L505.2 1051.0L505.6 1050.8L506.0 1050.5L506.4 1050.4L507.6 1050.7L508.0 1050.9L508.4 1051.0L508.8 1050.7L509.2 943.9L510.4 962.8L510.8 1050.2L511.2 987.3L511.6 1049.7L512.0 954.4L513.2 1049.8L513.6 1048.2L514.0 1050.1L514.4 1026.8L514.8 1050.0L516.0 1045.7L516.4 1050.7L516.8 1040.4L517.2 1050.5L517.6 1046.6L518.8 1051.2L519.2 1045.5L519.6 1050.3L520.0 1051.1L520.4 1050.1L521.6 1050.5L522.0 1050.5L522.4 1050.6L522.8 1050.2L523.2 1050.2L524.4 1047.2L524.8 1047.3L525.2 1050.8L525.6 1048.2L526.0 1049.9L527.2 1040.4L527.6 1051.2L528.0 1050.7L528.4 1051.1L528.8 1050.5L530.0 1050.9L530.4 1050.5L530.8 1051.1L531.3 1050.9L531.7 1050.2L532.9 1048.9L533.3 1050.6L533.7 1051.1L534.1 1051.2L534.5 1050.3L535.7 1051.3L536.1 1050.8L536.5 1050.7L536.9 1051.3L537.3 1050.4L538.5 1050.8L538.9 1050.8L539.3 1050.5L539.7 1051.2L540.1 1051.3L541.3 1048.5L541.7 1050.1L542.1 1051.0L542.5 1051.0L542.9 1051.3L544.1 1050.0L544.5 1050.3L544.9 1050.8L545.3 1050.5L545.7 1050.2L546.9 1050.0L547.3 1050.0L547.7 1050.8L548.1 1051.0L548.5 1050.4L549.7 1050.4L550.1 1050.6L550.5 1050.3L550.9 1050.2L551.3 1051.3L552.5 1051.1L552.9 1050.6L553.3 1050.9L553.7 1035.3L554.1 1051.0L555.3 1050.6L555.7 1048.9L556.1 1049.5L556.5 1050.6L556.9 1045.1L558.1 1051.0L558.5 1051.2L558.9 1050.5L559.3 1049.9L559.7 1051.2L561.0 1050.4L561.4 1051.0L561.8 1050.7L562.2 1030.2L562.6 1049.8L563.8 1048.9L564.2 1049.6L564.6 1050.4L565.0 1049.7L565.4 1050.4L566.6 861.9L567.0 1050.8L567.4 1050.5L567.8 1051.0L568.2 1025.5L569.4 1050.8L569.8 1042.9L570.2 1050.3L570.6 1044.5L571.0 1040.4L572.2 1050.4L572.6 1050.6L573.0 1051.3L573.4 1050.5L573.8 1014.1L575.0 1051.1L575.4 1041.8L575.8 1051.0L576.2 1038.7L576.6 1051.0L577.8 1048.3L578.2 1050.1L578.6 1048.0L579.0 1050.5L579.4 1050.2L580.6 1050.7L581.0 1048.6L581.4 1043.8L581.8 1050.6L582.2 1051.0L583.4 1050.5L583.8 1050.3L584.2 1050.6L584.6 1050.0L585.0 1051.1L586.2 1050.7L586.6 1050.7L587.0 1049.8L587.4 1050.9L587.8 1050.6L589.0 1050.2L589.4 1051.1L589.8 1050.4L590.3 1051.3L590.7 1050.5L591.9 1050.4L592.3 1050.2L592.7 883.4L593.1 1016.8L593.5 1047.6L594.7 1006.5L595.1 1051.3L595.5 1050.5L595.9 1050.1L596.3 1050.5L597.5 1040.4L597.9 1050.8L598.3 1050.7L598.7 1051.0L599.1 1051.1L600.3 1050.5L600.7 1049.8L601.1 1050.9L601.5 1051.2L601.9 1050.6L603.1 1049.8L603.5 1050.6L603.9 1051.1L604.3 1050.2L604.7 1051.1L605.9 1035.0L606.3 1050.7L606.7 1050.3L607.1 1050.9L607.5 1051.2L608.7 1048.9L609.1 1051.3L609.5 1050.0L609.9 1051.0L610.3 1051.3L611.5 1051.2L611.9 1051.2L612.3 1050.9L612.7 1040.9L613.1 1051.3L614.3 1050.9L614.7 1051.2L615.1 1051.3L615.5 1051.3L615.9 1050.3L617.1 1049.9L617.5 1050.1L617.9 1049.8L618.3 1051.3L618.7 1050.0L620.0 1049.8L620.4 1029.9L620.8 1050.6L621.2 1049.6L621.6 1051.0L622.8 1048.9L623.2 1050.9L623.6 1049.5L624.0 1050.6L624.4 1048.9L625.6 1025.7L626.0 1050.7L626.4 1050.7L626.8 1049.8L627.2 1048.9L628.4 1049.6L628.8 1050.2L629.2 1029.4L629.6 1050.8L630.0 1049.5L631.2 1051.0L631.6 1048.9L632.0 1048.9L632.4 1051.2L632.8 1051.1L634.0 1048.9L634.4 1050.5L634.8 1051.2L635.2 1032.8L635.6 1050.1L636.8 1051.0L637.2 1050.7L637.6 1048.9L638.0 1050.7L638.4 1050.5L639.6 1051.3L640.0 1050.7L640.4 1050.0L640.8 1050.7L641.2 1051.3L642.4 1049.7L642.8 1050.8L643.2 1050.8L643.6 1050.0L644.0 1050.0L645.2 1051.2L645.6 1051.3L646.0 1050.8L646.4 1051.3L646.8 1050.2L648.0 1050.4L648.4 1050.2L648.8 1050.5L649.3 1050.0L649.7 1046.3L650.9 1048.5L651.3 1050.0L651.7 1050.7L652.1 1049.9L652.5 1048.0L653.7 1050.3L654.1 1050.8L654.5 1050.7L654.9 1048.1L655.3 1024.3L656.5 1027.0L656.9 1048.7L657.3 712.5L657.7 1048.7L658.1 1049.5L659.3 1050.4L659.7 988.7L660.1 1050.4L660.5 1050.5L660.9 1051.2L662.1 1050.0L662.5 1049.7L662.9 1050.8L663.3 1051.1L663.7 1050.7L664.9 1050.8L665.3 1050.8L665.7 1051.0L666.1 1050.5L666.5 1051.2L667.7 1050.7L668.1 1050.9L668.5 1049.9L668.9 1051.2L669.3 999.4L670.5 1050.8L670.9 1050.6L671.3 1050.3L671.7 1050.5L672.1 1050.6L673.3 1050.3L673.7 1050.2L674.1 1051.2L674.5 1049.9L674.9 1047.2L676.1 1050.2L676.5 1049.7L676.9 1051.2L677.3 1051.0L677.7 1050.4L679.0 1048.9L679.4 1050.4L679.8 1048.9L680.2 1051.1L680.6 1049.9L681.8 1049.8L682.2 1049.6L682.6 1051.0L683.0 1047.2L683.4 1050.4L684.6 1047.4L685.0 1050.8L685.4 1041.2L685.8 1050.3L686.2 1043.2L687.4 1050.9L687.8 1034.5L688.2 1049.6L688.6 1044.5L689.0 1050.1L690.2 1043.8L690.6 1051.1L691.0 1047.6L691.4 1006.5L691.8 1050.8L693.0 1050.2L693.4 1044.5L693.8 1041.2L694.2 1046.2L694.6 1051.0L695.8 1042.1L696.2 1050.1L696.6 1051.0L697.0 1049.9L697.4 1050.5L698.6 1050.9L699.0 1050.6L699.4 1050.8L699.8 1048.9L700.2 1050.7L701.4 1049.0L701.8 1051.2L702.2 1049.2L702.6 1050.8L703.0 1051.2L704.2 1046.3L704.6 1049.6L705.0 1050.0L705.4 1050.6L705.8 1050.7L707.0 1049.8L707.4 1048.9L707.8 1050.7L708.3 1051.2L708.7 1050.3L709.9 1043.8L710.3 1051.1L710.7 1050.2L711.1 1043.9L711.5 1049.9L712.7 1030.2L713.1 1050.0L713.5 1050.8L713.9 1051.2L714.3 1048.9L715.5 1049.9L715.9 1049.5L716.3 1050.8L716.7 1050.8L717.1 1050.7L718.3 1036.2L718.7 1051.1L719.1 1049.6L719.5 1049.9L719.9 1050.4L721.1 1048.9L721.5 1050.4L721.9 1051.2L722.3 1051.1L722.7 1049.9L723.9 1050.1L724.3 1050.3L724.7 1050.9L725.1 1050.5L725.5 1050.6L726.7 1050.4L727.1 1050.7L727.5 1050.2L727.9 1050.6L728.3 1035.3L729.5 1037.1L729.9 1050.8L730.3 1039.1L730.7 1050.5L731.1 1030.2L732.3 1050.4L732.7 1035.6L733.1 1048.9L733.5 969.3L733.9 1050.5L735.1 1048.6L735.5 1050.1L735.9 1047.3L736.3 1047.2L736.7 1048.7L738.0 1050.9L738.4 1051.0L738.8 1051.0L739.2 1047.2L739.6 1022.6L740.8 1050.6L741.2 1051.0L741.6 1050.7L742.0 1050.6L742.4 1049.1L743.6 1048.9L744.0 1050.3L744.4 1050.3L744.8 1050.2L745.2 1050.5L746.4 1051.3L746.8 1049.8L747.2 1050.4L747.6 1051.0L748.0 1050.4L749.2 1050.0L749.6 1048.9L750.0 1051.2L750.4 1049.9L750.8 1051.0L752.0 1050.0L752.4 1050.8L752.8 1049.5L753.2 1045.5L753.6 1047.1L754.8 1050.6L755.2 1046.5L755.6 1050.9L756.0 1034.1L756.4 1050.3L757.6 1048.9L758.0 1050.5L758.4 1039.5L758.8 1051.2L759.2 1049.2L760.4 1048.9L760.8 1050.9L761.2 1043.8L761.6 1050.7L762.0 1050.3L763.2 1050.5L763.6 1050.6L764.0 1050.0L764.4 1051.3L764.8 1051.2L766.0 1050.8L766.4 1051.1L766.8 1050.8L767.3 1034.1L767.7 1050.2L768.9 1050.0L769.3 1050.4L769.7 1049.8L770.1 1049.7L770.5 1051.2L771.7 1050.1L772.1 1049.8L772.5 1045.5L772.9 1048.9L773.3 1050.5L774.5 1048.9L774.9 1050.5L775.3 1050.0L775.7 1051.2L776.1 1048.9L777.3 1048.9L777.7 1049.9L778.1 1050.9L778.5 1049.6L778.9 1050.7L780.1 1046.3L780.5 1051.0L780.9 1050.4L781.3 1051.1L781.7 1050.8L782.9 1050.5L783.3 1050.8L783.7 1050.2L784.1 1051.2L784.5 1051.2L785.7 1050.6L786.1 1048.0L786.5 1051.0L786.9 1050.4L787.3 1051.1L788.5 1049.9L788.9 1051.2L789.3 1049.9L789.7 1025.5L790.1 1050.0L791.3 1048.9L791.7 1050.0L792.1 1048.9L792.5 1051.0L792.9 1050.0L794.1 1050.6L794.5 1050.1L794.9 1050.5L795.3 1049.7L795.7 1051.0L797.0 1050.1L797.4 1050.5L797.8 1050.6L798.2 1042.9L798.6 1044.9L799.8 1050.9L800.2 1044.0L800.6 1050.5L801.0 1048.7L801.4 1042.9L802.6 1047.7L803.0 1050.7L803.4 1045.7L803.8 1045.5L804.2 1045.7L805.4 1050.5L805.8 1005.7L806.2 1050.7L806.6 1050.3L807.0 1050.5L808.2 1044.6L808.6 1050.3L809.0 1049.9L809.4 1049.7L809.8 1050.9L811.0 1050.3L811.4 1043.8L811.8 1050.3L812.2 1049.1L812.6 1050.4L813.8 1024.8L814.2 1050.9L814.6 1047.7L815.0 1050.7L815.4 1050.1L816.6 1045.5L817.0 1048.8L817.4 1050.8L817.8 1050.6L818.2 1050.2L819.4 1049.9L819.8 1050.6L820.2 1050.4L820.6 1051.1L821.0 1048.0L822.2 1050.5L822.6 1049.1L823.0 1050.6L823.4 1048.2L823.8 1051.0L825.0 1047.2L825.4 1050.6L825.8 1050.6L826.3 1050.4L826.7 1051.3L827.9 1050.8L828.3 1047.8L828.7 1027.3L829.1 1049.8L829.5 1050.1L830.7 1050.1L831.1 1049.7L831.5 1050.3L831.9 1050.2L832.3 1050.0L833.5 1050.7L833.9 1050.4L834.3 1035.6L834.7 1042.7L835.1 1051.1L836.3 1051.3L836.7 1051.1L837.1 1040.4L837.5 1049.8L837.9 1034.5L839.1 1049.2L839.5 1039.7L839.9 1051.1L840.3 1049.9L840.7 940.8L841.9 1049.6L842.3 1050.4L842.7 1048.9L843.1 1050.9L843.5 1050.7L844.7 1050.3L845.1 1049.1L845.5 1050.4L845.9 1041.7L846.3 1051.0L847.5 1050.4L847.9 1050.5L848.3 1049.8L848.7 1049.7L849.1 1049.7L850.3 1050.2L850.7 1049.8L851.1 1050.7L851.5 1034.1L851.9 1051.1L853.1 1050.8L853.5 1050.5L853.9 1050.6L854.3 1050.5L854.7 1050.6L856.0 1050.4L856.4 1050.6L856.8 1051.1L857.2 1050.0L857.6 1048.0L858.8 1048.8L859.2 1050.3L859.6 1050.8L860.0 1046.3L860.4 1050.7L861.6 1050.5L862.0 1050.9L862.4 1050.2L862.8 1050.0L863.2 1049.9L864.4 956.9L864.8 1051.2L865.2 1050.1L865.6 1051.2L866.0 1050.6L867.2 1050.5L867.6 1050.6L868.0 1051.0L868.4 1049.9L868.8 993.5L870.0 1047.3L870.4 1050.6L870.8 1047.8L871.2 1051.2L871.6 1047.2L872.8 1050.8L873.2 1050.4L873.6 1050.5L874.0 1049.9L874.4 1050.3L875.6 1048.9L876.0 1051.2L876.4 1048.9L876.8 1050.8L877.2 1049.6L878.4 1038.4L878.8 1042.6L879.2 1050.5L879.6 1043.6L880.0 1050.1L881.2 1040.4L881.6 1050.8L882.0 1050.3L882.4 1050.9L882.8 1037.0L884.0 1050.9L884.4 1032.8L884.8 1051.2L885.3 1042.0L885.7 1051.2L886.9 1046.9L887.3 1041.2L887.7 1043.5L888.1 1049.9L888.5 1042.1L889.7 1051.2L890.1 1051.2L890.5 1051.3L890.9 1050.3L891.3 1051.1L892.5 1050.4L892.9 1051.2L893.3 1051.0L893.7 1051.0L894.1 1051.3L895.3 1050.0L895.7 1050.6L896.1 1050.8L896.5 1051.1L896.9 1051.1L898.1 1050.6L898.5 1050.3L898.9 1049.8L899.3 1021.8L899.7 1050.9L900.9 1050.7L901.3 1051.3L901.7 1050.4L902.1 1049.9L902.5 1050.7L903.7 1051.1L904.1 1051.3L904.5 1050.4L904.9 1051.1L905.3 1046.8L906.5 1051.2L906.9 1050.4L907.3 1051.3L907.7 1050.4L908.1 1050.3L909.3 1050.3L909.7 1051.2L910.1 1050.2L910.5 1051.2L910.9 1051.3L912.1 1050.1L912.5 1051.2L912.9 962.1L913.3 988.2L913.7 1049.9L915.0 964.7L915.4 940.1L915.8 1050.0L916.2 1050.3L916.6 1050.3L917.8 1051.3L918.2 1050.2L918.6 1051.0L919.0 1050.9L919.4 1050.5L920.6 1048.0L921.0 1050.4L921.4 1051.0L921.8 1050.6L922.2 1050.2L923.4 1051.1L923.8 1050.7L924.2 1051.1L924.6 1051.1L925.0 1050.5L926.2 1050.6L926.6 963.3L927.0 1026.5L927.4 1048.8L927.8 1050.3L929.0 1050.3L929.4 1022.1L929.8 1048.0L930.2 1040.8L930.6 1050.4L931.8 1037.8L932.2 1051.0L932.6 1048.1L933.0 1049.8L933.4 1048.0L934.6 1050.7L935.0 1050.0L935.4 1051.2L935.8 1049.7L936.2 1049.7L937.4 1050.2L937.8 1050.6L938.2 1049.7L938.6 1049.9L939.0 1050.2L940.2 1043.4L940.6 1050.8L941.0 1050.4L941.4 1049.4L941.8 1048.9L943.0 1050.7L943.4 1050.7L943.8 1048.9L944.3 1046.8L944.7 1049.5L945.9 1050.9L946.3 1048.9L946.7 1050.8L947.1 1049.2L947.5 1028.2L948.7 1051.1L949.1 1050.9L949.5 1036.2L949.9 1051.0L950.3 949.8L951.5 1050.9L951.9 1042.1L952.3 1042.1L952.7 1048.0L953.1 1050.9L954.3 1045.5L954.7 1050.7L955.1 1050.0L955.5 1050.5L955.9 1050.9L957.1 1051.1L957.5 1050.3L957.9 1050.2L958.3 1050.3L958.7 1051.3L959.9 1050.4L960.3 1049.9L960.7 1050.7L961.1 923.2L961.5 1050.5L962.7 1050.7L963.1 1051.1L963.5 1050.5L963.9 1050.7L964.3 1050.8L965.5 1028.5L965.9 1051.1L966.3 1036.1L966.7 1050.0L967.1 1046.7L968.3 971.3L968.7 1042.8L969.1 1050.0L969.5 1041.1L969.9 1049.9L971.1 1051.1L971.5 1050.6L971.9 1040.4L972.3 1051.2L972.7 1050.6L974.0 1050.5L974.4 1050.3L974.8 1049.9L975.2 1050.5L975.6 1051.1L976.8 1050.6L977.2 1051.1L977.6 1051.2L978.0 1050.8L978.4 1051.3L979.6 1050.5L980.0 1050.5L980.4 1050.5L980.8 1049.9L981.2 1051.2L982.4 696.6L982.8 699.4L983.2 1050.7L983.6 1050.3L984.0 1051.2L985.2 1050.5L985.6 1050.4L986.0 1050.9L986.4 1050.8L986.8 1041.2L988.0 1050.2L988.4 1051.0L988.8 1050.5L989.2 1051.0L989.6 1050.6L990.8 1051.0L991.2 1050.4L991.6 1051.1L992.0 1045.1L992.4 1051.3L993.6 1050.8L994.0 1051.2L994.4 1051.0L994.8 1051.1L995.2 1051.1L996.4 1050.3L996.8 1049.9L997.2 1051.3L997.6 1050.1L998.0 1032.8L999.2 1047.2L999.6 1033.6L1000.0 1046.2L1000.4 1050.2L1000.8 1049.2L1002.0 1027.7L1002.4 1050.9L1002.8 1050.8L1003.3 1047.0L1003.7 1043.8L1004.9 1051.2L1005.3 1051.2L1005.7 1050.0L1006.1 1049.7L1006.5 1050.0L1007.7 1050.2L1008.1 1050.0L1008.5 1050.2L1008.9 1047.2L1009.3 1050.2L1010.5 1050.6L1010.9 1051.0L1011.3 1049.3L1011.7 1043.4L1012.1 1050.1L1013.3 1050.5L1013.7 1050.8L1014.1 1049.7L1014.5 1050.1L1014.9 1050.3L1016.1 1049.9L1016.5 1050.9L1016.9 1049.7L1017.3 1043.4L1017.7 1048.1L1018.9 1050.7L1019.3 1050.0L1019.7 1050.2L1020.1 1048.0L1020.5 1051.2L1021.7 1050.1L1022.1 1050.5L1022.5 1046.3L1022.9 1050.8L1023.3 1048.1L1024.5 1051.1L1024.9 1044.6L1025.3 1050.0L1025.7 1047.2L1026.1 1049.9L1027.3 1049.6L1027.7 1051.1L1028.1 1049.4L1028.5 1044.1L1028.9 1049.9L1030.1 1051.1L1030.5 1050.2L1030.9 1049.7L1031.3 1049.8L1031.7 1049.8L1033.0 1050.7L1033.4 1051.0L1033.8 1048.0L1034.2 1050.7L1034.6 1049.7L1035.8 1050.7L1036.2 1048.6L1036.6 1041.7L1037.0 1043.3L1037.4 1049.8L1038.6 1051.1L1039.0 1051.2L1039.4 1042.9L1039.8 1050.3L1040.2 1049.5L1041.4 1048.9L1041.8 1049.3L1042.2 1050.8L1042.6 1050.4L1043.0 1050.8L1044.2 1036.7L1044.6 1050.1L1045.0 1049.8L1045.4 1050.2L1045.8 1049.7L1047.0 1049.7L1047.4 1050.0L1047.8 1050.1L1048.2 1050.1L1048.6 1051.3L1049.8 1051.1L1050.2 1051.2L1050.6 1050.5L1051.0 1051.1L1051.4 1051.1L1052.6 932.9L1053.0 1050.6L1053.4 1050.0L1053.8 1050.8L1054.2 1051.0L1055.4 1050.5L1055.8 1050.2L1056.2 1050.6L1056.6 1051.3L1057.0 1050.1L1058.2 1050.3L1058.6 1044.1L1059.0 1050.8L1059.4 1050.4L1059.8 1050.1L1061.0 1050.5L1061.4 1050.9L1061.8 1050.4L1062.3 1050.7L1062.7 1050.5L1063.9 1051.1L1064.3 1050.4L1064.7 1050.9L1065.1 1001.1L1065.5 1050.2L1066.7 1051.2L1067.1 1050.8L1067.5 1050.5L1067.9 1051.1L1068.3 1050.8L1069.5 1050.4L1069.9 1050.7L1070.3 1050.7L1070.7 1045.1L1071.1 1051.2L1072.3 1050.5L1072.7 1050.1L1073.1 1050.6L1073.5 1050.6L1073.9 1049.9L1075.1 1039.0L1075.5 1050.0L1075.9 1050.6L1076.3 1049.8L1076.7 1051.0L1077.9 1049.2L1078.3 1048.9L1078.7 1050.8L1079.1 1051.1L1079.5 1050.9L1080.7 1051.1L1081.1 1050.0L1081.5 1050.9L1081.9 1051.2L1082.3 1050.4L1083.5 1051.1L1083.9 1050.1L1084.3 1051.1L1084.7 1050.4L1085.1 1050.0L1086.3 1050.0L1086.7 1028.2L1087.1 1050.5L1087.5 1050.7L1087.9 1050.3L1089.1 1051.1L1089.5 1051.2L1089.9 1051.1L1090.3 1050.7L1090.7 1051.2L1092.0 1050.9L1092.4 1050.0L1092.8 1051.1L1093.2 1050.4L1093.6 1045.5L1094.8 1050.1L1095.2 1049.8L1095.6 1045.5L1096.0 1050.9L1096.4 1046.3L1097.6 1013.6L1098.0 1050.8L1098.4 1051.2L1098.8 1050.8L1099.2 1051.0L1100.4 1051.1L1100.8 1050.6L1101.2 1049.9L1101.6 1050.4L1102.0 1050.7L1103.2 1050.9L1103.6 1050.5L1104.0 1050.8L1104.4 1051.2L1104.8 1050.0L1106.0 1050.8L1106.4 1040.4L1106.8 1050.7L1107.2 1051.0L1107.6 1050.6L1108.8 1050.5L1109.2 1051.0L1109.6 1050.5L1110.0 1050.5L1110.4 1051.0L1111.6 1050.6L1112.0 1046.3L1112.4 1051.1L1112.8 1050.2L1113.2 1048.2L1114.4 1050.7L1114.8 1047.1L1115.2 1051.0L1115.6 1043.8L1116.0 1050.5L1117.2 1046.0L1117.6 1050.8L1118.0 1044.6L1118.4 1050.0L1118.8 1050.4L1120.0 1050.5L1120.4 1045.8L1120.8 700.0L1121.3 1046.9L1121.7 1050.0L1122.9 1047.4L1123.3 1050.8L1123.7 1045.5L1124.1 1006.2L1124.5 1050.0L1125.7 1050.6L1126.1 1048.9L1126.5 1051.3L1126.9 1050.5L1127.3 1050.7L1128.5 1039.9L1128.9 1050.6L1129.3 1046.8L1129.7 1050.1L1130.1 1047.5L1131.3 1050.5L1131.7 1044.6L1132.1 1050.3L1132.5 1049.3L1132.9 1051.0L1134.1 1050.0L1134.5 1046.3L1134.9 1051.1L1135.3 1050.1L1135.7 1050.9L1136.9 1050.5L1137.3 1049.9L1137.7 1050.2L1138.1 1051.1L1138.5 1050.9L1139.7 1051.2L1140.1 1002.3L1140.5 1046.3L1140.9 1050.8L1141.3 1046.7L1142.5 1043.8L1142.9 1048.9L1143.3 1050.5L1143.7 1044.0L1144.1 1050.3L1145.3 1035.3L1145.7 1050.2L1146.1 1049.9L1146.5 1051.3L1146.9 1049.7L1148.1 1051.2L1148.5 1051.1L1148.9 1051.2L1149.3 1050.3L1149.7 1050.5L1151.0 1050.7L1151.4 1051.1L1151.8 1050.8L1152.2 1050.9L1152.6 1050.9L1153.8 1050.1L1154.2 1046.8L1154.6 1050.4L1155.0 1050.3L1155.4 1048.0L1156.6 1048.1L1157.0 1050.8L1157.4 1050.1L1157.8 974.3L1158.2 1051.2L1159.4 1049.8L1159.8 1050.4L1160.2 1051.1L1160.6 1050.5L1161.0 1050.5L1162.2 1050.6L1162.6 1048.9L1163.0 1050.1L1163.4 1051.1L1163.8 1050.8L1165.0 1051.3L1165.4 1050.1L1165.8 1049.9L1166.2 1050.9L1166.6 1051.0L1167.8 1050.4L1168.2 1051.0L1168.6 1050.2L1169.0 1051.1L1169.4 1051.1L1170.6 1050.6L1171.0 1051.0L1171.4 1050.3L1171.8 1051.0L1172.2 1051.3L1173.4 1050.3L1173.8 1050.3L1174.2 1050.0L1174.6 1050.8L1175.0 1050.7L1176.2 974.3L1176.6 1050.3L1177.0 1051.1L1177.4 1048.9L1177.8 1051.0L1179.0 1048.9L1179.4 1051.3L1179.8 1050.6L1180.3 1050.9L1180.7 1050.5L1181.9 1049.9L1182.3 1048.9L1182.7 1051.0L1183.1 1049.7L1183.5 1051.3L1184.7 1051.0" fill="none" stroke="#000" stroke-width="3.2" stroke-linejoin="round" stroke-linecap="butt"/>
<g stroke="#333" stroke-width="2.6" fill="none">
<path d="M60.00000000000001 1052.00H67.9"/>
<path d="M60.00000000000001 959.90H67.9"/>
<path d="M60.00000000000001 867.80H67.9"/>
<path d="M60.00000000000001 775.70H67.9"/>
<path d="M60.00000000000001 683.60H67.9"/>
<path d="M103.00 1069.7V1077.6000000000001"/>
<path d="M139.52 1069.7V1077.6000000000001"/>
<path d="M176.45 1069.7V1077.6000000000001"/>
<path d="M213.37 1069.7V1077.6000000000001"/>
<path d="M249.50 1069.7V1077.6000000000001"/>
<path d="M286.02 1069.7V1077.6000000000001"/>
<path d="M322.95 1069.7V1077.6000000000001"/>
<path d="M359.87 1069.7V1077.6000000000001"/>
<path d="M395.99 1069.7V1077.6000000000001"/>
<path d="M432.52 1069.7V1077.6000000000001"/>
<path d="M469.44 1069.7V1077.6000000000001"/>
<path d="M506.37 1069.7V1077.6000000000001"/>
<path d="M542.89 1069.7V1077.6000000000001"/>
<path d="M579.41 1069.7V1077.6000000000001"/>
<path d="M616.34 1069.7V1077.6000000000001"/>
<path d="M653.26 1069.7V1077.6000000000001"/>
<path d="M689.39 1069.7V1077.6000000000001"/>
<path d="M725.91 1069.7V1077.6000000000001"/>
<path d="M762.84 1069.7V1077.6000000000001"/>
<path d="M799.76 1069.7V1077.6000000000001"/>
<path d="M835.88 1069.7V1077.6000000000001"/>
<path d="M872.41 1069.7V1077.6000000000001"/>
<path d="M909.33 1069.7V1077.6000000000001"/>
<path d="M946.26 1069.7V1077.6000000000001"/>
<path d="M982.38 1069.7V1077.6000000000001"/>
<path d="M1018.90 1069.7V1077.6000000000001"/>
<path d="M1055.83 1069.7V1077.6000000000001"/>
<path d="M1092.75 1069.7V1077.6000000000001"/>
<path d="M1129.28 1069.7V1077.6000000000001"/>
<path d="M1165.80 1069.7V1077.6000000000001"/>
</g>
<g font-family='"Liberation Sans", Arial, sans-serif' font-size="25.7" fill="#111" stroke="#111" stroke-width="0.3">
<text x="53.00000000000001" y="1062.20" text-anchor="end">0.00</text>
<text x="53.00000000000001" y="970.10" text-anchor="end">0.25</text>
<text x="53.00000000000001" y="878.00" text-anchor="end">0.50</text>
<text x="53.00000000000001" y="785.90" text-anchor="end">0.75</text>
<text x="53.00000000000001" y="693.80" text-anchor="end">1.00</text>
<text transform="translate(121.70 1090.90) rotate(-70)" text-anchor="end">04-2013</text>
<text transform="translate(158.22 1090.90) rotate(-70)" text-anchor="end">07-2013</text>
<text transform="translate(195.15 1090.90) rotate(-70)" text-anchor="end">10-2013</text>
<text transform="translate(232.07 1090.90) rotate(-70)" text-anchor="end">01-2014</text>
<text transform="translate(268.20 1090.90) rotate(-70)" text-anchor="end">04-2014</text>
<text transform="translate(304.72 1090.90) rotate(-70)" text-anchor="end">07-2014</text>
<text transform="translate(341.65 1090.90) rotate(-70)" text-anchor="end">10-2014</text>
<text transform="translate(378.57 1090.90) rotate(-70)" text-anchor="end">01-2015</text>
<text transform="translate(414.69 1090.90) rotate(-70)" text-anchor="end">04-2015</text>
<text transform="translate(451.22 1090.90) rotate(-70)" text-anchor="end">07-2015</text>
<text transform="translate(488.14 1090.90) rotate(-70)" text-anchor="end">10-2015</text>
<text transform="translate(525.07 1090.90) rotate(-70)" text-anchor="end">01-2016</text>
<text transform="translate(561.59 1090.90) rotate(-70)" text-anchor="end">04-2016</text>
<text transform="translate(598.11 1090.90) rotate(-70)" text-anchor="end">07-2016</text>
<text transform="translate(635.04 1090.90) rotate(-70)" text-anchor="end">10-2016</text>
<text transform="translate(671.96 1090.90) rotate(-70)" text-anchor="end">01-2017</text>
<text transform="translate(708.09 1090.90) rotate(-70)" text-anchor="end">04-2017</text>
<text transform="translate(744.61 1090.90) rotate(-70)" text-anchor="end">07-2017</text>
<text transform="translate(781.54 1090.90) rotate(-70)" text-anchor="end">10-2017</text>
<text transform="translate(818.46 1090.90) rotate(-70)" text-anchor="end">01-2018</text>
<text transform="translate(854.58 1090.90) rotate(-70)" text-anchor="end">04-2018</text>
<text transform="translate(891.11 1090.90) rotate(-70)" text-anchor="end">07-2018</text>
<text transform="translate(928.03 1090.90) rotate(-70)" text-anchor="end">10-2018</text>
<text transform="translate(964.96 1090.90) rotate(-70)" text-anchor="end">01-2019</text>
<text transform="translate(1001.08 1090.90) rotate(-70)" text-anchor="end">04-2019</text>
<text transform="translate(1037.60 1090.90) rotate(-70)" text-anchor="end">07-2019</text>
<text transform="translate(1074.53 1090.90) rotate(-70)" text-anchor="end">10-2019</text>
<text transform="translate(1111.45 1090.90) rotate(-70)" text-anchor="end">01-2020</text>
<text transform="translate(1147.98 1090.90) rotate(-70)" text-anchor="end">04-2020</text>
<text transform="translate(1184.50 1090.90) rotate(-70)" text-anchor="end">07-2020</text>
</g>
<text x="68.1" y="656" font-family='"Liberation Sans", Arial, sans-serif' font-size="38.0" fill="#000">(b) Probability of jumps in mean</text>
</svg></body></html>
